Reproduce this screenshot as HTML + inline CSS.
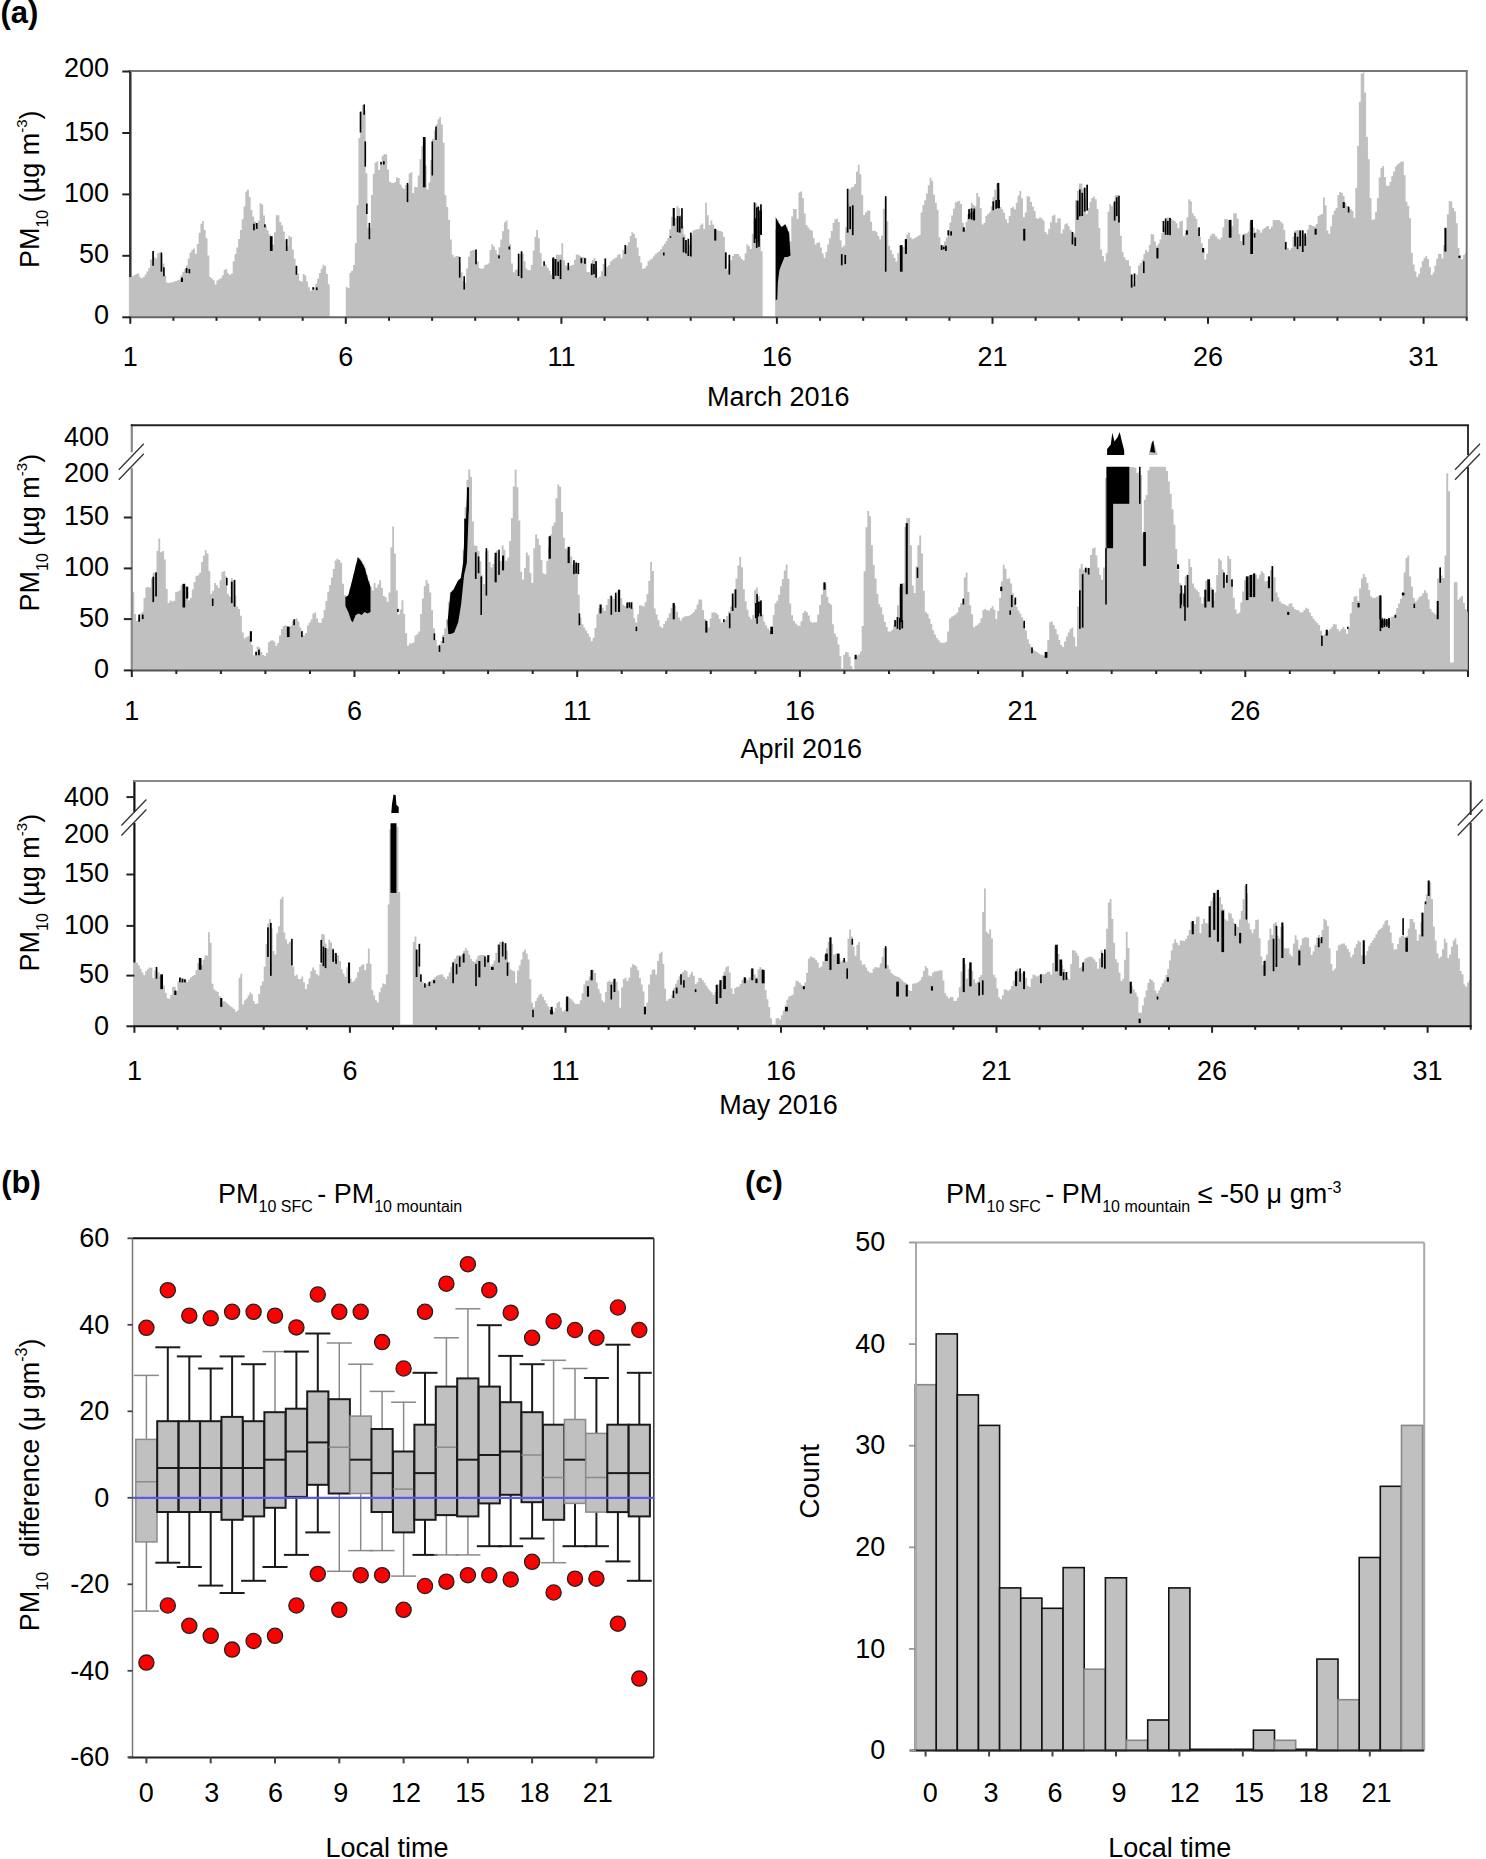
<!DOCTYPE html>
<html><head><meta charset="utf-8"><style>
html,body{margin:0;padding:0;background:#fff;}
svg{display:block;}
text{font-family:"Liberation Sans", sans-serif;}
</style></head><body>
<svg width="1486" height="1859" viewBox="0 0 1486 1859">
<rect width="1486" height="1859" fill="#fff"/>
<line x1="130.3" y1="70.0" x2="130.3" y2="317.3" stroke="#333" stroke-width="2.5"/>
<polygon points="128.9,317.3 128.9,277.0 130.3,277.0 132.1,277.0 132.1,276.2 133.9,276.2 133.9,275.1 135.7,275.1 135.7,273.9 137.5,273.9 137.5,273.6 139.3,273.6 139.3,277.3 141.1,277.3 141.1,278.2 142.9,278.2 142.9,277.1 144.7,277.1 144.7,274.6 146.5,274.6 146.5,271.5 148.3,271.5 148.3,267.9 150.1,267.9 150.1,259.6 151.9,259.6 151.9,252.0 153.7,252.0 153.7,257.6 155.4,257.6 155.4,258.6 157.2,258.6 157.2,253.2 159.0,253.2 159.0,252.5 160.8,252.5 160.8,254.1 162.6,254.1 162.6,263.4 164.4,263.4 164.4,275.8 166.2,275.8 166.2,282.4 168.0,282.4 168.0,282.9 169.8,282.9 169.8,282.6 171.6,282.6 171.6,282.2 173.4,282.2 173.4,281.6 175.2,281.6 175.2,280.9 177.0,280.9 177.0,280.2 178.8,280.2 178.8,279.5 180.6,279.5 180.6,275.4 182.4,275.4 182.4,271.7 184.2,271.7 184.2,269.2 186.0,269.2 186.0,265.4 187.8,265.4 187.8,258.6 189.6,258.6 189.6,252.4 191.4,252.4 191.4,250.0 193.2,250.0 193.2,248.5 195.0,248.5 195.0,253.7 196.8,253.7 196.8,243.9 198.6,243.9 198.6,232.7 200.4,232.7 200.4,223.7 202.1,223.7 202.1,220.9 203.9,220.9 203.9,230.1 205.7,230.1 205.7,238.3 207.5,238.3 207.5,255.4 209.3,255.4 209.3,276.9 211.1,276.9 211.1,278.5 212.9,278.5 212.9,280.3 214.7,280.3 214.7,284.4 216.5,284.4 216.5,280.5 218.3,280.5 218.3,279.2 220.1,279.2 220.1,278.2 221.9,278.2 221.9,275.2 223.7,275.2 223.7,269.9 225.5,269.9 225.5,269.1 227.3,269.1 227.3,273.3 229.1,273.3 229.1,274.8 230.9,274.8 230.9,273.6 232.7,273.6 232.7,261.5 234.5,261.5 234.5,254.1 236.3,254.1 236.3,247.5 238.1,247.5 238.1,238.9 239.9,238.9 239.9,229.9 241.7,229.9 241.7,219.3 243.5,219.3 243.5,206.4 245.3,206.4 245.3,191.5 247.1,191.5 247.1,189.4 248.9,189.4 248.9,197.0 250.6,197.0 250.6,210.0 252.4,210.0 252.4,216.6 254.2,216.6 254.2,221.5 256.0,221.5 256.0,224.9 257.8,224.9 257.8,220.7 259.6,220.7 259.6,203.2 261.4,203.2 261.4,204.6 263.2,204.6 263.2,215.5 265.0,215.5 265.0,226.5 266.8,226.5 266.8,230.2 268.6,230.2 268.6,234.6 270.4,234.6 270.4,245.0 272.2,245.0 272.2,244.4 274.0,244.4 274.0,232.2 275.8,232.2 275.8,215.3 277.6,215.3 277.6,215.3 279.4,215.3 279.4,221.9 281.2,221.9 281.2,225.4 283.0,225.4 283.0,231.5 284.8,231.5 284.8,239.3 286.6,239.3 286.6,246.4 288.4,246.4 288.4,235.8 290.2,235.8 290.2,237.0 292.0,237.0 292.0,249.5 293.8,249.5 293.8,258.8 295.6,258.8 295.6,266.4 297.3,266.4 297.3,273.6 299.1,273.6 299.1,280.8 300.9,280.8 300.9,281.4 302.7,281.4 302.7,273.9 304.5,273.9 304.5,275.4 306.3,275.4 306.3,281.6 308.1,281.6 308.1,287.3 309.9,287.3 309.9,291.0 311.7,291.0 311.7,289.2 313.5,289.2 313.5,287.4 315.3,287.4 315.3,283.8 317.1,283.8 317.1,278.4 318.9,278.4 318.9,273.0 320.7,273.0 320.7,268.8 322.5,268.8 322.5,264.7 324.3,264.7 324.3,266.1 326.1,266.1 326.1,274.0 327.9,274.0 327.9,284.2 329.7,284.2 329.7,317.3 331.5,317.3 331.5,317.3 333.3,317.3 333.3,317.3 335.1,317.3 335.1,317.3 336.9,317.3 336.9,317.3 338.7,317.3 338.7,317.3 340.5,317.3 340.5,317.3 342.3,317.3 342.3,317.3 344.1,317.3 344.1,317.3 345.8,317.3 345.8,287.0 347.6,287.0 347.6,288.0 349.4,288.0 349.4,272.7 351.2,272.7 351.2,270.8 353.0,270.8 353.0,265.0 354.8,265.0 354.8,243.3 356.6,243.3 356.6,205.3 358.4,205.3 358.4,138.0 360.2,138.0 360.2,111.1 362.0,111.1 362.0,105.1 363.8,105.1 363.8,110.5 365.6,110.5 365.6,173.3 367.4,173.3 367.4,227.6 369.2,227.6 369.2,228.0 371.0,228.0 371.0,195.0 372.8,195.0 372.8,173.7 374.6,173.7 374.6,162.4 376.4,162.4 376.4,161.4 378.2,161.4 378.2,170.0 380.0,170.0 380.0,161.6 381.8,161.6 381.8,155.8 383.6,155.8 383.6,154.0 385.4,154.0 385.4,154.5 387.2,154.5 387.2,169.4 389.0,169.4 389.0,181.8 390.8,181.8 390.8,182.7 392.6,182.7 392.6,182.9 394.3,182.9 394.3,181.9 396.1,181.9 396.1,177.4 397.9,177.4 397.9,177.9 399.7,177.9 399.7,184.6 401.5,184.6 401.5,187.5 403.3,187.5 403.3,189.1 405.1,189.1 405.1,185.0 406.9,185.0 406.9,184.3 408.7,184.3 408.7,173.4 410.5,173.4 410.5,172.3 412.3,172.3 412.3,193.1 414.1,193.1 414.1,187.0 415.9,187.0 415.9,187.3 417.7,187.3 417.7,175.6 419.5,175.6 419.5,159.2 421.3,159.2 421.3,146.1 423.1,146.1 423.1,139.6 424.9,139.6 424.9,165.4 426.7,165.4 426.7,189.6 428.5,189.6 428.5,182.6 430.3,182.6 430.3,159.9 432.1,159.9 432.1,138.8 433.9,138.8 433.9,130.5 435.7,130.5 435.7,124.4 437.5,124.4 437.5,119.3 439.3,119.3 439.3,117.0 441.0,117.0 441.0,124.4 442.8,124.4 442.8,142.7 444.6,142.7 444.6,195.3 446.4,195.3 446.4,207.0 448.2,207.0 448.2,219.8 450.0,219.8 450.0,239.4 451.8,239.4 451.8,254.8 453.6,254.8 453.6,257.2 455.4,257.2 455.4,256.0 457.2,256.0 457.2,256.0 459.0,256.0 459.0,262.7 460.8,262.7 460.8,272.5 462.6,272.5 462.6,280.9 464.4,280.9 464.4,282.7 466.2,282.7 466.2,268.4 468.0,268.4 468.0,256.8 469.8,256.8 469.8,251.1 471.6,251.1 471.6,250.2 473.4,250.2 473.4,249.7 475.2,249.7 475.2,250.4 477.0,250.4 477.0,261.4 478.8,261.4 478.8,267.9 480.6,267.9 480.6,268.9 482.4,268.9 482.4,268.3 484.2,268.3 484.2,264.9 486.0,264.9 486.0,264.5 487.8,264.5 487.8,263.3 489.5,263.3 489.5,250.1 491.3,250.1 491.3,244.2 493.1,244.2 493.1,246.6 494.9,246.6 494.9,250.2 496.7,250.2 496.7,254.2 498.5,254.2 498.5,247.2 500.3,247.2 500.3,239.4 502.1,239.4 502.1,231.2 503.9,231.2 503.9,222.3 505.7,222.3 505.7,220.6 507.5,220.6 507.5,229.2 509.3,229.2 509.3,244.0 511.1,244.0 511.1,263.6 512.9,263.6 512.9,272.3 514.7,272.3 514.7,269.9 516.5,269.9 516.5,269.3 518.3,269.3 518.3,275.4 520.1,275.4 520.1,253.7 521.9,253.7 521.9,253.4 523.7,253.4 523.7,261.2 525.5,261.2 525.5,268.4 527.3,268.4 527.3,270.2 529.1,270.2 529.1,270.2 530.9,270.2 530.9,264.9 532.7,264.9 532.7,250.5 534.5,250.5 534.5,236.9 536.2,236.9 536.2,229.9 538.0,229.9 538.0,238.2 539.8,238.2 539.8,253.0 541.6,253.0 541.6,265.9 543.4,265.9 543.4,264.4 545.2,264.4 545.2,264.7 547.0,264.7 547.0,267.7 548.8,267.7 548.8,270.7 550.6,270.7 550.6,274.6 552.4,274.6 552.4,271.2 554.2,271.2 554.2,260.3 556.0,260.3 556.0,254.4 557.8,254.4 557.8,254.7 559.6,254.7 559.6,254.8 561.4,254.8 561.4,243.3 563.2,243.3 563.2,260.2 565.0,260.2 565.0,265.3 566.8,265.3 566.8,266.3 568.6,266.3 568.6,266.6 570.4,266.6 570.4,265.6 572.2,265.6 572.2,264.7 574.0,264.7 574.0,259.8 575.8,259.8 575.8,254.4 577.6,254.4 577.6,254.7 579.4,254.7 579.4,256.1 581.2,256.1 581.2,256.9 583.0,256.9 583.0,256.9 584.7,256.9 584.7,258.0 586.5,258.0 586.5,272.1 588.3,272.1 588.3,272.2 590.1,272.2 590.1,265.2 591.9,265.2 591.9,260.0 593.7,260.0 593.7,257.9 595.5,257.9 595.5,268.3 597.3,268.3 597.3,277.7 599.1,277.7 599.1,276.5 600.9,276.5 600.9,271.3 602.7,271.3 602.7,264.1 604.5,264.1 604.5,259.4 606.3,259.4 606.3,267.0 608.1,267.0 608.1,264.9 609.9,264.9 609.9,261.6 611.7,261.6 611.7,259.8 613.5,259.8 613.5,258.6 615.3,258.6 615.3,257.4 617.1,257.4 617.1,254.7 618.9,254.7 618.9,254.3 620.7,254.3 620.7,258.4 622.5,258.4 622.5,250.0 624.3,250.0 624.3,245.4 626.1,245.4 626.1,245.7 627.9,245.7 627.9,242.2 629.7,242.2 629.7,236.0 631.4,236.0 631.4,232.2 633.2,232.2 633.2,234.0 635.0,234.0 635.0,237.9 636.8,237.9 636.8,247.5 638.6,247.5 638.6,256.1 640.4,256.1 640.4,262.7 642.2,262.7 642.2,268.7 644.0,268.7 644.0,268.3 645.8,268.3 645.8,265.8 647.6,265.8 647.6,261.3 649.4,261.3 649.4,259.8 651.2,259.8 651.2,258.6 653.0,258.6 653.0,256.2 654.8,256.2 654.8,253.8 656.6,253.8 656.6,252.5 658.4,252.5 658.4,251.3 660.2,251.3 660.2,249.1 662.0,249.1 662.0,246.3 663.8,246.3 663.8,243.7 665.6,243.7 665.6,240.9 667.4,240.9 667.4,238.0 669.2,238.0 669.2,229.6 671.0,229.6 671.0,216.7 672.8,216.7 672.8,218.1 674.6,218.1 674.6,218.1 676.4,218.1 676.4,206.2 678.2,206.2 678.2,208.2 679.9,208.2 679.9,215.2 681.7,215.2 681.7,225.8 683.5,225.8 683.5,234.6 685.3,234.6 685.3,243.1 687.1,243.1 687.1,252.1 688.9,252.1 688.9,244.9 690.7,244.9 690.7,235.3 692.5,235.3 692.5,230.4 694.3,230.4 694.3,229.7 696.1,229.7 696.1,229.3 697.9,229.3 697.9,229.0 699.7,229.0 699.7,225.3 701.5,225.3 701.5,223.5 703.3,223.5 703.3,229.0 705.1,229.0 705.1,202.8 706.9,202.8 706.9,215.2 708.7,215.2 708.7,225.1 710.5,225.1 710.5,220.5 712.3,220.5 712.3,224.4 714.1,224.4 714.1,230.3 715.9,230.3 715.9,230.3 717.7,230.3 717.7,230.5 719.5,230.5 719.5,231.0 721.3,231.0 721.3,231.7 723.1,231.7 723.1,236.7 724.9,236.7 724.9,252.4 726.7,252.4 726.7,269.5 728.4,269.5 728.4,264.3 730.2,264.3 730.2,260.2 732.0,260.2 732.0,256.0 733.8,256.0 733.8,254.1 735.6,254.1 735.6,253.9 737.4,253.9 737.4,254.1 739.2,254.1 739.2,256.6 741.0,256.6 741.0,258.9 742.8,258.9 742.8,260.4 744.6,260.4 744.6,253.6 746.4,253.6 746.4,244.4 748.2,244.4 748.2,246.3 750.0,246.3 750.0,249.0 751.8,249.0 751.8,233.7 753.6,233.7 753.6,217.4 755.4,217.4 755.4,203.4 757.2,203.4 757.2,206.3 759.0,206.3 759.0,218.2 760.8,218.2 760.8,251.2 762.6,251.2 762.6,317.3 764.4,317.3 764.4,317.3 766.2,317.3 766.2,317.3 768.0,317.3 768.0,317.3 769.8,317.3 769.8,317.3 771.6,317.3 771.6,317.3 773.4,317.3 773.4,317.3 775.1,317.3 775.1,229.6 776.9,229.6 776.9,220.0 778.7,220.0 778.7,223.3 780.5,223.3 780.5,225.9 782.3,225.9 782.3,225.5 784.1,225.5 784.1,224.5 785.9,224.5 785.9,226.3 787.7,226.3 787.7,231.1 789.5,231.1 789.5,241.6 791.3,241.6 791.3,216.6 793.1,216.6 793.1,209.0 794.9,209.0 794.9,209.0 796.7,209.0 796.7,218.8 798.5,218.8 798.5,192.6 800.3,192.6 800.3,191.5 802.1,191.5 802.1,198.0 803.9,198.0 803.9,213.5 805.7,213.5 805.7,225.1 807.5,225.1 807.5,227.5 809.3,227.5 809.3,229.7 811.1,229.7 811.1,230.8 812.9,230.8 812.9,238.3 814.7,238.3 814.7,244.5 816.5,244.5 816.5,242.7 818.3,242.7 818.3,242.5 820.1,242.5 820.1,247.5 821.9,247.5 821.9,253.5 823.6,253.5 823.6,257.7 825.4,257.7 825.4,252.0 827.2,252.0 827.2,244.5 829.0,244.5 829.0,238.3 830.8,238.3 830.8,230.9 832.6,230.9 832.6,223.1 834.4,223.1 834.4,219.5 836.2,219.5 836.2,218.6 838.0,218.6 838.0,221.9 839.8,221.9 839.8,240.2 841.6,240.2 841.6,247.2 843.4,247.2 843.4,245.4 845.2,245.4 845.2,227.2 847.0,227.2 847.0,203.8 848.8,203.8 848.8,189.5 850.6,189.5 850.6,187.6 852.4,187.6 852.4,186.7 854.2,186.7 854.2,184.0 856.0,184.0 856.0,171.8 857.8,171.8 857.8,164.8 859.6,164.8 859.6,174.3 861.4,174.3 861.4,195.1 863.2,195.1 863.2,214.9 865.0,214.9 865.0,212.6 866.8,212.6 866.8,210.4 868.6,210.4 868.6,210.4 870.3,210.4 870.3,221.7 872.1,221.7 872.1,230.9 873.9,230.9 873.9,230.4 875.7,230.4 875.7,232.3 877.5,232.3 877.5,235.9 879.3,235.9 879.3,239.3 881.1,239.3 881.1,235.4 882.9,235.4 882.9,208.8 884.7,208.8 884.7,198.7 886.5,198.7 886.5,221.3 888.3,221.3 888.3,245.8 890.1,245.8 890.1,250.3 891.9,250.3 891.9,254.3 893.7,254.3 893.7,257.9 895.5,257.9 895.5,261.5 897.3,261.5 897.3,253.0 899.1,253.0 899.1,245.8 900.9,245.8 900.9,247.6 902.7,247.6 902.7,247.0 904.5,247.0 904.5,239.2 906.3,239.2 906.3,234.5 908.1,234.5 908.1,232.4 909.9,232.4 909.9,237.6 911.7,237.6 911.7,239.2 913.5,239.2 913.5,238.3 915.3,238.3 915.3,237.3 917.1,237.3 917.1,236.2 918.8,236.2 918.8,235.0 920.6,235.0 920.6,212.4 922.4,212.4 922.4,204.9 924.2,204.9 924.2,200.2 926.0,200.2 926.0,193.6 927.8,193.6 927.8,185.3 929.6,185.3 929.6,177.7 931.4,177.7 931.4,180.7 933.2,180.7 933.2,194.7 935.0,194.7 935.0,202.8 936.8,202.8 936.8,209.8 938.6,209.8 938.6,237.3 940.4,237.3 940.4,245.1 942.2,245.1 942.2,245.0 944.0,245.0 944.0,241.5 945.8,241.5 945.8,237.5 947.6,237.5 947.6,230.3 949.4,230.3 949.4,222.5 951.2,222.5 951.2,215.4 953.0,215.4 953.0,208.7 954.8,208.7 954.8,202.5 956.6,202.5 956.6,201.4 958.4,201.4 958.4,200.8 960.2,200.8 960.2,204.0 962.0,204.0 962.0,222.7 963.8,222.7 963.8,230.3 965.5,230.3 965.5,221.9 967.3,221.9 967.3,214.6 969.1,214.6 969.1,208.5 970.9,208.5 970.9,202.7 972.7,202.7 972.7,205.1 974.5,205.1 974.5,206.3 976.3,206.3 976.3,193.0 978.1,193.0 978.1,196.8 979.9,196.8 979.9,208.1 981.7,208.1 981.7,224.5 983.5,224.5 983.5,222.9 985.3,222.9 985.3,216.1 987.1,216.1 987.1,214.0 988.9,214.0 988.9,212.2 990.7,212.2 990.7,206.2 992.5,206.2 992.5,197.1 994.3,197.1 994.3,189.7 996.1,189.7 996.1,183.7 997.9,183.7 997.9,189.0 999.7,189.0 999.7,207.1 1001.5,207.1 1001.5,209.2 1003.3,209.2 1003.3,212.8 1005.1,212.8 1005.1,219.2 1006.9,219.2 1006.9,223.0 1008.7,223.0 1008.7,215.9 1010.5,215.9 1010.5,208.1 1012.3,208.1 1012.3,206.8 1014.0,206.8 1014.0,209.2 1015.8,209.2 1015.8,202.7 1017.6,202.7 1017.6,195.5 1019.4,195.5 1019.4,191.1 1021.2,191.1 1021.2,198.5 1023.0,198.5 1023.0,217.2 1024.8,217.2 1024.8,212.4 1026.6,212.4 1026.6,196.1 1028.4,196.1 1028.4,196.7 1030.2,196.7 1030.2,201.9 1032.0,201.9 1032.0,206.6 1033.8,206.6 1033.8,211.1 1035.6,211.1 1035.6,218.0 1037.4,218.0 1037.4,218.7 1039.2,218.7 1039.2,217.2 1041.0,217.2 1041.0,218.4 1042.8,218.4 1042.8,220.4 1044.6,220.4 1044.6,231.9 1046.4,231.9 1046.4,234.3 1048.2,234.3 1048.2,228.7 1050.0,228.7 1050.0,222.3 1051.8,222.3 1051.8,215.8 1053.6,215.8 1053.6,214.7 1055.4,214.7 1055.4,222.7 1057.2,222.7 1057.2,218.4 1059.0,218.4 1059.0,218.3 1060.8,218.3 1060.8,233.6 1062.5,233.6 1062.5,229.4 1064.3,229.4 1064.3,224.3 1066.1,224.3 1066.1,223.2 1067.9,223.2 1067.9,226.3 1069.7,226.3 1069.7,230.1 1071.5,230.1 1071.5,237.4 1073.3,237.4 1073.3,233.5 1075.1,233.5 1075.1,200.2 1076.9,200.2 1076.9,190.8 1078.7,190.8 1078.7,183.5 1080.5,183.5 1080.5,183.5 1082.3,183.5 1082.3,188.4 1084.1,188.4 1084.1,198.7 1085.9,198.7 1085.9,214.1 1087.7,214.1 1087.7,208.1 1089.5,208.1 1089.5,201.8 1091.3,201.8 1091.3,198.1 1093.1,198.1 1093.1,196.5 1094.9,196.5 1094.9,199.2 1096.7,199.2 1096.7,208.9 1098.5,208.9 1098.5,227.9 1100.3,227.9 1100.3,249.4 1102.1,249.4 1102.1,255.9 1103.9,255.9 1103.9,261.5 1105.7,261.5 1105.7,253.1 1107.5,253.1 1107.5,211.8 1109.2,211.8 1109.2,204.0 1111.0,204.0 1111.0,205.9 1112.8,205.9 1112.8,202.7 1114.6,202.7 1114.6,195.4 1116.4,195.4 1116.4,195.0 1118.2,195.0 1118.2,215.5 1120.0,215.5 1120.0,235.7 1121.8,235.7 1121.8,251.9 1123.6,251.9 1123.6,257.2 1125.4,257.2 1125.4,259.9 1127.2,259.9 1127.2,260.3 1129.0,260.3 1129.0,266.1 1130.8,266.1 1130.8,273.9 1132.6,273.9 1132.6,283.6 1134.4,283.6 1134.4,285.9 1136.2,285.9 1136.2,274.6 1138.0,274.6 1138.0,265.6 1139.8,265.6 1139.8,262.9 1141.6,262.9 1141.6,259.5 1143.4,259.5 1143.4,254.0 1145.2,254.0 1145.2,250.0 1147.0,250.0 1147.0,251.8 1148.8,251.8 1148.8,244.9 1150.6,244.9 1150.6,234.1 1152.4,234.1 1152.4,234.4 1154.2,234.4 1154.2,241.6 1156.0,241.6 1156.0,246.1 1157.7,246.1 1157.7,243.6 1159.5,243.6 1159.5,239.4 1161.3,239.4 1161.3,233.0 1163.1,233.0 1163.1,226.2 1164.9,226.2 1164.9,220.9 1166.7,220.9 1166.7,217.3 1168.5,217.3 1168.5,217.7 1170.3,217.7 1170.3,219.1 1172.1,219.1 1172.1,220.2 1173.9,220.2 1173.9,221.0 1175.7,221.0 1175.7,223.3 1177.5,223.3 1177.5,228.2 1179.3,228.2 1179.3,221.4 1181.1,221.4 1181.1,220.8 1182.9,220.8 1182.9,236.3 1184.7,236.3 1184.7,233.5 1186.5,233.5 1186.5,217.2 1188.3,217.2 1188.3,199.2 1190.1,199.2 1190.1,201.3 1191.9,201.3 1191.9,213.2 1193.7,213.2 1193.7,216.2 1195.5,216.2 1195.5,218.9 1197.3,218.9 1197.3,228.3 1199.1,228.3 1199.1,236.8 1200.9,236.8 1200.9,243.2 1202.7,243.2 1202.7,251.2 1204.4,251.2 1204.4,259.6 1206.2,259.6 1206.2,253.5 1208.0,253.5 1208.0,239.1 1209.8,239.1 1209.8,235.4 1211.6,235.4 1211.6,233.4 1213.4,233.4 1213.4,234.3 1215.2,234.3 1215.2,236.5 1217.0,236.5 1217.0,238.5 1218.8,238.5 1218.8,239.6 1220.6,239.6 1220.6,237.6 1222.4,237.6 1222.4,227.2 1224.2,227.2 1224.2,219.1 1226.0,219.1 1226.0,218.9 1227.8,218.9 1227.8,220.3 1229.6,220.3 1229.6,229.3 1231.4,229.3 1231.4,226.1 1233.2,226.1 1233.2,213.5 1235.0,213.5 1235.0,213.2 1236.8,213.2 1236.8,218.6 1238.6,218.6 1238.6,234.1 1240.4,234.1 1240.4,241.1 1242.2,241.1 1242.2,235.7 1244.0,235.7 1244.0,233.4 1245.8,233.4 1245.8,233.2 1247.6,233.2 1247.6,231.6 1249.4,231.6 1249.4,221.8 1251.2,221.8 1251.2,220.5 1252.9,220.5 1252.9,227.6 1254.7,227.6 1254.7,232.0 1256.5,232.0 1256.5,229.1 1258.3,229.1 1258.3,230.1 1260.1,230.1 1260.1,232.8 1261.9,232.8 1261.9,229.4 1263.7,229.4 1263.7,227.9 1265.5,227.9 1265.5,226.6 1267.3,226.6 1267.3,226.1 1269.1,226.1 1269.1,229.0 1270.9,229.0 1270.9,226.4 1272.7,226.4 1272.7,220.3 1274.5,220.3 1274.5,219.9 1276.3,219.9 1276.3,219.9 1278.1,219.9 1278.1,220.0 1279.9,220.0 1279.9,221.4 1281.7,221.4 1281.7,223.5 1283.5,223.5 1283.5,229.9 1285.3,229.9 1285.3,241.5 1287.1,241.5 1287.1,248.1 1288.9,248.1 1288.9,250.0 1290.7,250.0 1290.7,248.0 1292.5,248.0 1292.5,236.4 1294.3,236.4 1294.3,230.6 1296.1,230.6 1296.1,230.3 1297.9,230.3 1297.9,230.3 1299.6,230.3 1299.6,230.3 1301.4,230.3 1301.4,230.6 1303.2,230.6 1303.2,234.8 1305.0,234.8 1305.0,236.8 1306.8,236.8 1306.8,229.6 1308.6,229.6 1308.6,224.7 1310.4,224.7 1310.4,225.0 1312.2,225.0 1312.2,226.1 1314.0,226.1 1314.0,226.6 1315.8,226.6 1315.8,224.0 1317.6,224.0 1317.6,216.1 1319.4,216.1 1319.4,214.8 1321.2,214.8 1321.2,214.1 1323.0,214.1 1323.0,197.5 1324.8,197.5 1324.8,205.6 1326.6,205.6 1326.6,230.4 1328.4,230.4 1328.4,233.8 1330.2,233.8 1330.2,226.2 1332.0,226.2 1332.0,215.0 1333.8,215.0 1333.8,210.6 1335.6,210.6 1335.6,207.9 1337.4,207.9 1337.4,194.9 1339.2,194.9 1339.2,191.9 1341.0,191.9 1341.0,192.8 1342.8,192.8 1342.8,196.0 1344.6,196.0 1344.6,202.8 1346.4,202.8 1346.4,206.1 1348.1,206.1 1348.1,207.6 1349.9,207.6 1349.9,209.0 1351.7,209.0 1351.7,210.9 1353.5,210.9 1353.5,217.7 1355.3,217.7 1355.3,187.9 1357.1,187.9 1357.1,145.8 1358.9,145.8 1358.9,101.8 1360.7,101.8 1360.7,73.7 1362.5,73.7 1362.5,72.4 1364.3,72.4 1364.3,92.8 1366.1,92.8 1366.1,136.7 1367.9,136.7 1367.9,159.2 1369.7,159.2 1369.7,198.0 1371.5,198.0 1371.5,219.7 1373.3,219.7 1373.3,219.2 1375.1,219.2 1375.1,211.8 1376.9,211.8 1376.9,198.3 1378.7,198.3 1378.7,177.4 1380.5,177.4 1380.5,168.0 1382.3,168.0 1382.3,166.1 1384.1,166.1 1384.1,176.9 1385.9,176.9 1385.9,185.8 1387.7,185.8 1387.7,185.8 1389.5,185.8 1389.5,181.9 1391.3,181.9 1391.3,176.3 1393.1,176.3 1393.1,171.5 1394.9,171.5 1394.9,166.5 1396.6,166.5 1396.6,164.6 1398.4,164.6 1398.4,163.0 1400.2,163.0 1400.2,161.8 1402.0,161.8 1402.0,161.6 1403.8,161.6 1403.8,175.3 1405.6,175.3 1405.6,201.8 1407.4,201.8 1407.4,205.8 1409.2,205.8 1409.2,218.3 1411.0,218.3 1411.0,252.7 1412.8,252.7 1412.8,264.6 1414.6,264.6 1414.6,271.6 1416.4,271.6 1416.4,276.7 1418.2,276.7 1418.2,273.8 1420.0,273.8 1420.0,267.6 1421.8,267.6 1421.8,261.1 1423.6,261.1 1423.6,258.0 1425.4,258.0 1425.4,256.1 1427.2,256.1 1427.2,258.9 1429.0,258.9 1429.0,266.9 1430.8,266.9 1430.8,274.9 1432.6,274.9 1432.6,272.4 1434.4,272.4 1434.4,265.8 1436.2,265.8 1436.2,258.7 1438.0,258.7 1438.0,253.8 1439.8,253.8 1439.8,253.9 1441.6,253.9 1441.6,258.4 1443.3,258.4 1443.3,245.1 1445.1,245.1 1445.1,228.4 1446.9,228.4 1446.9,214.2 1448.7,214.2 1448.7,201.0 1450.5,201.0 1450.5,201.5 1452.3,201.5 1452.3,208.0 1454.1,208.0 1454.1,211.3 1455.9,211.3 1455.9,223.3 1457.7,223.3 1457.7,247.9 1459.5,247.9 1459.5,254.9 1461.3,254.9 1461.3,259.2 1463.1,259.2 1463.1,255.1 1464.9,255.1 1464.9,253.0 1466.4,253.0 1466.4,317.3" fill="#c0c0c0"/>
<rect x="152.3" y="251.0" width="1.6" height="14.8" fill="#000"/>
<rect x="160.6" y="252.5" width="1.6" height="19.2" fill="#000"/>
<rect x="163.1" y="267.3" width="1.6" height="8.9" fill="#000"/>
<rect x="185.7" y="268.0" width="1.7" height="4.9" fill="#000"/>
<rect x="188.5" y="269.0" width="1.7" height="4.3" fill="#000"/>
<rect x="180.9" y="277.6" width="2.1" height="4.4" fill="#000"/>
<rect x="253.1" y="223.7" width="1.7" height="6.6" fill="#000"/>
<rect x="255.9" y="223.0" width="1.7" height="5.9" fill="#000"/>
<rect x="264.1" y="224.3" width="1.6" height="3.0" fill="#000"/>
<rect x="269.9" y="236.2" width="2.7" height="14.8" fill="#000"/>
<rect x="285.9" y="239.1" width="1.6" height="11.8" fill="#000"/>
<rect x="295.6" y="265.8" width="1.6" height="8.9" fill="#000"/>
<rect x="312.3" y="287.2" width="1.7" height="2.4" fill="#000"/>
<rect x="315.9" y="287.4" width="1.7" height="2.7" fill="#000"/>
<rect x="359.7" y="111.8" width="1.6" height="20.7" fill="#000"/>
<rect x="363.4" y="104.4" width="1.6" height="10.4" fill="#000"/>
<rect x="364.5" y="141.4" width="1.6" height="25.2" fill="#000"/>
<rect x="366.0" y="203.6" width="1.6" height="10.4" fill="#000"/>
<rect x="368.6" y="222.9" width="1.6" height="16.3" fill="#000"/>
<rect x="380.2" y="162.2" width="1.7" height="2.2" fill="#000"/>
<rect x="383.0" y="161.2" width="1.7" height="3.3" fill="#000"/>
<rect x="406.7" y="182.9" width="1.6" height="19.2" fill="#000"/>
<rect x="422.9" y="137.0" width="2.7" height="50.3" fill="#000"/>
<rect x="431.5" y="141.4" width="1.6" height="34.1" fill="#000"/>
<rect x="435.2" y="126.6" width="1.6" height="13.3" fill="#000"/>
<rect x="458.9" y="256.9" width="1.6" height="20.7" fill="#000"/>
<rect x="463.4" y="276.2" width="1.6" height="13.3" fill="#000"/>
<rect x="475.2" y="249.5" width="1.6" height="14.8" fill="#000"/>
<rect x="498.2" y="255.4" width="1.6" height="3.0" fill="#000"/>
<rect x="508.5" y="246.5" width="1.6" height="3.0" fill="#000"/>
<rect x="517.8" y="253.7" width="1.7" height="22.3" fill="#000"/>
<rect x="520.7" y="251.3" width="1.7" height="26.8" fill="#000"/>
<rect x="543.3" y="261.3" width="1.6" height="4.4" fill="#000"/>
<rect x="552.3" y="258.4" width="2.2" height="20.7" fill="#000"/>
<rect x="552.4" y="257.4" width="1.7" height="17.3" fill="#000"/>
<rect x="554.8" y="259.0" width="1.7" height="16.7" fill="#000"/>
<rect x="557.3" y="261.6" width="1.7" height="14.4" fill="#000"/>
<rect x="559.7" y="259.8" width="1.7" height="19.3" fill="#000"/>
<rect x="567.5" y="262.8" width="1.6" height="7.4" fill="#000"/>
<rect x="580.5" y="258.1" width="1.7" height="5.1" fill="#000"/>
<rect x="584.1" y="258.2" width="1.7" height="5.6" fill="#000"/>
<rect x="590.9" y="263.5" width="1.7" height="11.5" fill="#000"/>
<rect x="593.1" y="264.0" width="1.7" height="10.2" fill="#000"/>
<rect x="595.2" y="261.1" width="1.7" height="16.6" fill="#000"/>
<rect x="604.5" y="258.4" width="1.6" height="17.8" fill="#000"/>
<rect x="624.5" y="245.1" width="1.6" height="8.9" fill="#000"/>
<rect x="663.0" y="252.5" width="1.6" height="3.0" fill="#000"/>
<rect x="669.7" y="236.2" width="1.6" height="1.5" fill="#000"/>
<rect x="672.7" y="208.0" width="2.1" height="17.8" fill="#000"/>
<rect x="676.8" y="216.0" width="1.7" height="16.2" fill="#000"/>
<rect x="678.9" y="216.3" width="1.7" height="16.4" fill="#000"/>
<rect x="681.1" y="208.2" width="1.7" height="20.3" fill="#000"/>
<rect x="682.7" y="237.4" width="1.7" height="15.0" fill="#000"/>
<rect x="685.1" y="240.0" width="1.7" height="13.4" fill="#000"/>
<rect x="687.5" y="238.7" width="1.7" height="17.3" fill="#000"/>
<rect x="690.0" y="232.6" width="1.7" height="23.9" fill="#000"/>
<rect x="714.2" y="228.8" width="2.1" height="11.8" fill="#000"/>
<rect x="724.9" y="252.4" width="1.7" height="16.3" fill="#000"/>
<rect x="728.5" y="254.8" width="1.7" height="19.7" fill="#000"/>
<rect x="753.7" y="202.4" width="1.7" height="40.6" fill="#000"/>
<rect x="755.9" y="207.4" width="1.7" height="40.5" fill="#000"/>
<rect x="758.1" y="210.4" width="1.7" height="36.4" fill="#000"/>
<rect x="760.3" y="210.4" width="1.7" height="24.6" fill="#000"/>
<rect x="755.0" y="218.2" width="1.7" height="20.7" fill="#000"/>
<rect x="757.5" y="206.6" width="1.7" height="35.7" fill="#000"/>
<rect x="760.1" y="204.3" width="1.7" height="29.9" fill="#000"/>
<rect x="840.9" y="254.1" width="1.7" height="11.2" fill="#000"/>
<rect x="844.4" y="254.9" width="1.7" height="9.2" fill="#000"/>
<rect x="846.8" y="188.7" width="1.7" height="43.9" fill="#000"/>
<rect x="849.3" y="206.5" width="1.7" height="22.6" fill="#000"/>
<rect x="851.9" y="205.3" width="1.7" height="29.9" fill="#000"/>
<rect x="884.9" y="196.2" width="1.6" height="75.5" fill="#000"/>
<rect x="899.9" y="245.1" width="2.7" height="26.6" fill="#000"/>
<rect x="904.9" y="239.1" width="2.1" height="14.8" fill="#000"/>
<rect x="940.8" y="245.2" width="1.7" height="4.8" fill="#000"/>
<rect x="943.0" y="246.8" width="1.7" height="2.5" fill="#000"/>
<rect x="945.1" y="245.7" width="1.7" height="5.3" fill="#000"/>
<rect x="947.5" y="230.3" width="1.7" height="5.1" fill="#000"/>
<rect x="950.3" y="231.3" width="1.7" height="4.2" fill="#000"/>
<rect x="962.7" y="227.3" width="2.1" height="4.4" fill="#000"/>
<rect x="968.2" y="209.1" width="1.7" height="8.8" fill="#000"/>
<rect x="970.8" y="208.4" width="1.7" height="11.2" fill="#000"/>
<rect x="973.4" y="208.6" width="1.7" height="11.5" fill="#000"/>
<rect x="968.0" y="214.0" width="1.7" height="5.1" fill="#000"/>
<rect x="970.5" y="212.6" width="1.7" height="6.0" fill="#000"/>
<rect x="973.0" y="211.4" width="1.7" height="9.0" fill="#000"/>
<rect x="992.4" y="201.4" width="1.7" height="8.9" fill="#000"/>
<rect x="995.3" y="200.1" width="1.7" height="8.7" fill="#000"/>
<rect x="998.2" y="199.9" width="1.7" height="8.4" fill="#000"/>
<rect x="997.2" y="182.9" width="2.1" height="25.2" fill="#000"/>
<rect x="1023.2" y="228.8" width="2.1" height="11.8" fill="#000"/>
<rect x="1071.6" y="231.9" width="1.7" height="12.6" fill="#000"/>
<rect x="1074.4" y="237.4" width="1.7" height="8.6" fill="#000"/>
<rect x="1076.5" y="200.6" width="2.1" height="19.2" fill="#000"/>
<rect x="1079.0" y="189.5" width="1.7" height="26.8" fill="#000"/>
<rect x="1081.4" y="192.8" width="1.7" height="23.2" fill="#000"/>
<rect x="1083.9" y="187.6" width="1.7" height="23.9" fill="#000"/>
<rect x="1086.3" y="184.7" width="1.7" height="25.9" fill="#000"/>
<rect x="1113.8" y="201.4" width="1.7" height="19.2" fill="#000"/>
<rect x="1115.9" y="197.3" width="1.7" height="18.8" fill="#000"/>
<rect x="1118.1" y="195.7" width="1.7" height="26.8" fill="#000"/>
<rect x="1130.8" y="274.7" width="1.7" height="12.9" fill="#000"/>
<rect x="1133.7" y="273.5" width="1.7" height="12.8" fill="#000"/>
<rect x="1143.0" y="261.3" width="1.6" height="11.8" fill="#000"/>
<rect x="1156.4" y="248.0" width="2.1" height="10.4" fill="#000"/>
<rect x="1162.6" y="221.0" width="1.7" height="11.2" fill="#000"/>
<rect x="1164.8" y="218.5" width="1.7" height="16.3" fill="#000"/>
<rect x="1167.0" y="220.9" width="1.7" height="14.0" fill="#000"/>
<rect x="1169.2" y="217.9" width="1.7" height="17.3" fill="#000"/>
<rect x="1185.8" y="230.3" width="2.1" height="4.4" fill="#000"/>
<rect x="1198.3" y="227.3" width="1.6" height="8.9" fill="#000"/>
<rect x="1202.1" y="248.0" width="2.1" height="4.4" fill="#000"/>
<rect x="1228.8" y="219.9" width="2.7" height="17.8" fill="#000"/>
<rect x="1242.7" y="234.7" width="1.6" height="10.4" fill="#000"/>
<rect x="1250.3" y="219.9" width="2.7" height="34.1" fill="#000"/>
<rect x="1253.8" y="233.2" width="1.6" height="4.4" fill="#000"/>
<rect x="1284.9" y="242.1" width="1.6" height="7.4" fill="#000"/>
<rect x="1294.2" y="232.7" width="1.7" height="13.8" fill="#000"/>
<rect x="1296.7" y="236.7" width="1.7" height="12.4" fill="#000"/>
<rect x="1299.3" y="230.5" width="1.7" height="15.7" fill="#000"/>
<rect x="1301.9" y="230.3" width="1.7" height="21.7" fill="#000"/>
<rect x="1304.4" y="233.4" width="1.7" height="12.4" fill="#000"/>
<rect x="1314.6" y="228.8" width="2.1" height="5.9" fill="#000"/>
<rect x="1342.7" y="202.1" width="2.1" height="5.9" fill="#000"/>
<rect x="1347.8" y="206.6" width="1.6" height="5.9" fill="#000"/>
<rect x="1444.4" y="227.8" width="2.0" height="23.8" fill="#000"/>
<rect x="1458.4" y="255.8" width="2.0" height="2.1" fill="#000"/>
<polygon points="775.7,216.9 778.7,222.9 781.6,227.3 785.3,224.3 789.1,233.2 790.5,255.4 787.6,256.9 784.6,256.9 781.6,264.3 779.4,270.2 777.9,282.1 777.2,299.8 775.7,299.8" fill="#000"/>
<line x1="1466.7" y1="71.0" x2="1466.7" y2="317.3" stroke="#777" stroke-width="2"/>
<line x1="129.3" y1="71.0" x2="1467.7" y2="71.0" stroke="#777" stroke-width="2"/>
<line x1="129.3" y1="317.3" x2="1467.7" y2="317.3" stroke="#666" stroke-width="2"/>
<line x1="130.3" y1="317.3" x2="130.3" y2="323.8" stroke="#222" stroke-width="2"/>
<line x1="173.4" y1="317.3" x2="173.4" y2="320.8" stroke="#222" stroke-width="2"/>
<line x1="216.5" y1="317.3" x2="216.5" y2="320.8" stroke="#222" stroke-width="2"/>
<line x1="259.6" y1="317.3" x2="259.6" y2="320.8" stroke="#222" stroke-width="2"/>
<line x1="302.7" y1="317.3" x2="302.7" y2="320.8" stroke="#222" stroke-width="2"/>
<line x1="345.8" y1="317.3" x2="345.8" y2="323.8" stroke="#222" stroke-width="2"/>
<line x1="389.0" y1="317.3" x2="389.0" y2="320.8" stroke="#222" stroke-width="2"/>
<line x1="432.1" y1="317.3" x2="432.1" y2="320.8" stroke="#222" stroke-width="2"/>
<line x1="475.2" y1="317.3" x2="475.2" y2="320.8" stroke="#222" stroke-width="2"/>
<line x1="518.3" y1="317.3" x2="518.3" y2="320.8" stroke="#222" stroke-width="2"/>
<line x1="561.4" y1="317.3" x2="561.4" y2="323.8" stroke="#222" stroke-width="2"/>
<line x1="604.5" y1="317.3" x2="604.5" y2="320.8" stroke="#222" stroke-width="2"/>
<line x1="647.6" y1="317.3" x2="647.6" y2="320.8" stroke="#222" stroke-width="2"/>
<line x1="690.7" y1="317.3" x2="690.7" y2="320.8" stroke="#222" stroke-width="2"/>
<line x1="733.8" y1="317.3" x2="733.8" y2="320.8" stroke="#222" stroke-width="2"/>
<line x1="776.9" y1="317.3" x2="776.9" y2="323.8" stroke="#222" stroke-width="2"/>
<line x1="820.1" y1="317.3" x2="820.1" y2="320.8" stroke="#222" stroke-width="2"/>
<line x1="863.2" y1="317.3" x2="863.2" y2="320.8" stroke="#222" stroke-width="2"/>
<line x1="906.3" y1="317.3" x2="906.3" y2="320.8" stroke="#222" stroke-width="2"/>
<line x1="949.4" y1="317.3" x2="949.4" y2="320.8" stroke="#222" stroke-width="2"/>
<line x1="992.5" y1="317.3" x2="992.5" y2="323.8" stroke="#222" stroke-width="2"/>
<line x1="1035.6" y1="317.3" x2="1035.6" y2="320.8" stroke="#222" stroke-width="2"/>
<line x1="1078.7" y1="317.3" x2="1078.7" y2="320.8" stroke="#222" stroke-width="2"/>
<line x1="1121.8" y1="317.3" x2="1121.8" y2="320.8" stroke="#222" stroke-width="2"/>
<line x1="1164.9" y1="317.3" x2="1164.9" y2="320.8" stroke="#222" stroke-width="2"/>
<line x1="1208.0" y1="317.3" x2="1208.0" y2="323.8" stroke="#222" stroke-width="2"/>
<line x1="1251.2" y1="317.3" x2="1251.2" y2="320.8" stroke="#222" stroke-width="2"/>
<line x1="1294.3" y1="317.3" x2="1294.3" y2="320.8" stroke="#222" stroke-width="2"/>
<line x1="1337.4" y1="317.3" x2="1337.4" y2="320.8" stroke="#222" stroke-width="2"/>
<line x1="1380.5" y1="317.3" x2="1380.5" y2="320.8" stroke="#222" stroke-width="2"/>
<line x1="1423.6" y1="317.3" x2="1423.6" y2="323.8" stroke="#222" stroke-width="2"/>
<line x1="1466.7" y1="317.3" x2="1466.7" y2="320.8" stroke="#222" stroke-width="2"/>
<text x="130.3" y="366.0" font-size="27" text-anchor="middle" font-weight="normal" fill="#000" >1</text>
<text x="345.8" y="366.0" font-size="27" text-anchor="middle" font-weight="normal" fill="#000" >6</text>
<text x="561.4" y="366.0" font-size="27" text-anchor="middle" font-weight="normal" fill="#000" >11</text>
<text x="776.9" y="366.0" font-size="27" text-anchor="middle" font-weight="normal" fill="#000" >16</text>
<text x="992.5" y="366.0" font-size="27" text-anchor="middle" font-weight="normal" fill="#000" >21</text>
<text x="1208.0" y="366.0" font-size="27" text-anchor="middle" font-weight="normal" fill="#000" >26</text>
<text x="1423.6" y="366.0" font-size="27" text-anchor="middle" font-weight="normal" fill="#000" >31</text>
<text x="778.3" y="405.5" font-size="27" text-anchor="middle" font-weight="normal" fill="#000" >March 2016</text>
<line x1="122.3" y1="317.3" x2="130.3" y2="317.3" stroke="#222" stroke-width="2"/>
<line x1="122.3" y1="255.8" x2="130.3" y2="255.8" stroke="#222" stroke-width="2"/>
<line x1="122.3" y1="194.4" x2="130.3" y2="194.4" stroke="#222" stroke-width="2"/>
<line x1="122.3" y1="133.0" x2="130.3" y2="133.0" stroke="#222" stroke-width="2"/>
<line x1="122.3" y1="71.5" x2="130.3" y2="71.5" stroke="#222" stroke-width="2"/>
<text x="109.0" y="324.2" font-size="27" text-anchor="end" font-weight="normal" fill="#000" >0</text>
<text x="109.0" y="262.9" font-size="27" text-anchor="end" font-weight="normal" fill="#000" >50</text>
<text x="109.0" y="201.7" font-size="27" text-anchor="end" font-weight="normal" fill="#000" >100</text>
<text x="109.0" y="140.8" font-size="27" text-anchor="end" font-weight="normal" fill="#000" >150</text>
<text x="109.0" y="76.5" font-size="27" text-anchor="end" font-weight="normal" fill="#000" >200</text>
<text transform="translate(38.7,268.1) rotate(-90)" font-size="27">PM<tspan font-size="16" dy="9.5">10</tspan><tspan dy="-9.5"> (&#181;g m</tspan><tspan font-size="15" dy="-11.6">-3</tspan><tspan dy="11.6">)</tspan></text>
<line x1="1468.0" y1="425.2" x2="1468.0" y2="455.0" stroke="#333" stroke-width="2"/>
<line x1="1468.0" y1="467.0" x2="1468.0" y2="670.5" stroke="#333" stroke-width="2"/>
<polygon points="132.4,670.5 132.4,592.3 132.4,592.3 134.3,592.3 134.3,613.9 136.1,613.9 136.1,621.1 138.0,621.1 138.0,617.7 139.8,617.7 139.8,613.5 141.7,613.5 141.7,611.8 143.5,611.8 143.5,597.9 145.4,597.9 145.4,587.5 147.2,587.5 147.2,587.1 149.1,587.1 149.1,587.6 151.0,587.6 151.0,578.6 152.8,578.6 152.8,572.6 154.7,572.6 154.7,573.5 156.5,573.5 156.5,551.0 158.4,551.0 158.4,538.5 160.2,538.5 160.2,552.3 162.1,552.3 162.1,550.9 164.0,550.9 164.0,559.4 165.8,559.4 165.8,589.0 167.7,589.0 167.7,603.0 169.5,603.0 169.5,600.6 171.4,600.6 171.4,601.5 173.2,601.5 173.2,600.8 175.1,600.8 175.1,591.9 176.9,591.9 176.9,591.4 178.8,591.4 178.8,590.4 180.7,590.4 180.7,585.2 182.5,585.2 182.5,584.0 184.4,584.0 184.4,585.9 186.2,585.9 186.2,590.9 188.1,590.9 188.1,600.2 189.9,600.2 189.9,598.1 191.8,598.1 191.8,589.6 193.6,589.6 193.6,581.9 195.5,581.9 195.5,576.1 197.4,576.1 197.4,575.2 199.2,575.2 199.2,572.7 201.1,572.7 201.1,561.9 202.9,561.9 202.9,555.7 204.8,555.7 204.8,550.3 206.6,550.3 206.6,553.5 208.5,553.5 208.5,570.9 210.3,570.9 210.3,593.9 212.2,593.9 212.2,590.7 214.1,590.7 214.1,583.0 215.9,583.0 215.9,585.2 217.8,585.2 217.8,588.0 219.6,588.0 219.6,580.3 221.5,580.3 221.5,572.0 223.3,572.0 223.3,570.9 225.2,570.9 225.2,576.3 227.0,576.3 227.0,593.8 228.9,593.8 228.9,596.6 230.8,596.6 230.8,578.0 232.6,578.0 232.6,580.5 234.5,580.5 234.5,595.6 236.3,595.6 236.3,606.6 238.2,606.6 238.2,609.1 240.0,609.1 240.0,615.8 241.9,615.8 241.9,632.6 243.8,632.6 243.8,638.5 245.6,638.5 245.6,636.9 247.5,636.9 247.5,635.9 249.3,635.9 249.3,639.1 251.2,639.1 251.2,644.9 253.0,644.9 253.0,655.2 254.9,655.2 254.9,651.2 256.7,651.2 256.7,646.4 258.6,646.4 258.6,647.4 260.5,647.4 260.5,651.9 262.3,651.9 262.3,655.1 264.2,655.1 264.2,656.1 266.0,656.1 266.0,653.1 267.9,653.1 267.9,642.3 269.7,642.3 269.7,640.7 271.6,640.7 271.6,640.2 273.4,640.2 273.4,641.6 275.3,641.6 275.3,645.8 277.2,645.8 277.2,643.1 279.0,643.1 279.0,635.5 280.9,635.5 280.9,629.1 282.7,629.1 282.7,626.0 284.6,626.0 284.6,625.3 286.4,625.3 286.4,626.1 288.3,626.1 288.3,627.0 290.1,627.0 290.1,625.7 292.0,625.7 292.0,621.1 293.9,621.1 293.9,619.1 295.7,619.1 295.7,618.2 297.6,618.2 297.6,621.6 299.4,621.6 299.4,627.6 301.3,627.6 301.3,631.0 303.1,631.0 303.1,635.2 305.0,635.2 305.0,633.1 306.9,633.1 306.9,625.6 308.7,625.6 308.7,622.4 310.6,622.4 310.6,619.2 312.4,619.2 312.4,613.4 314.3,613.4 314.3,612.4 316.1,612.4 316.1,618.4 318.0,618.4 318.0,622.5 319.8,622.5 319.8,623.1 321.7,623.1 321.7,618.2 323.6,618.2 323.6,610.1 325.4,610.1 325.4,601.1 327.3,601.1 327.3,591.8 329.1,591.8 329.1,584.9 331.0,584.9 331.0,577.5 332.8,577.5 332.8,569.1 334.7,569.1 334.7,560.5 336.5,560.5 336.5,558.8 338.4,558.8 338.4,559.9 340.3,559.9 340.3,562.8 342.1,562.8 342.1,583.7 344.0,583.7 344.0,595.2 345.8,595.2 345.8,597.1 347.7,597.1 347.7,594.1 349.5,594.1 349.5,588.6 351.4,588.6 351.4,582.3 353.2,582.3 353.2,574.3 355.1,574.3 355.1,564.5 357.0,564.5 357.0,557.7 358.8,557.7 358.8,558.4 360.7,558.4 360.7,560.7 362.5,560.7 362.5,563.8 364.4,563.8 364.4,567.7 366.2,567.7 366.2,575.0 368.1,575.0 368.1,581.2 369.9,581.2 369.9,586.8 371.8,586.8 371.8,590.6 373.7,590.6 373.7,583.1 375.5,583.1 375.5,587.7 377.4,587.7 377.4,584.5 379.2,584.5 379.2,580.2 381.1,580.2 381.1,587.8 382.9,587.8 382.9,596.0 384.8,596.0 384.8,597.2 386.7,597.2 386.7,601.7 388.5,601.7 388.5,592.5 390.4,592.5 390.4,547.3 392.2,547.3 392.2,526.5 394.1,526.5 394.1,553.4 395.9,553.4 395.9,590.5 397.8,590.5 397.8,614.4 399.6,614.4 399.6,609.4 401.5,609.4 401.5,600.3 403.4,600.3 403.4,614.1 405.2,614.1 405.2,633.2 407.1,633.2 407.1,645.7 408.9,645.7 408.9,643.3 410.8,643.3 410.8,643.5 412.6,643.5 412.6,642.5 414.5,642.5 414.5,635.4 416.3,635.4 416.3,634.3 418.2,634.3 418.2,631.4 420.1,631.4 420.1,614.1 421.9,614.1 421.9,598.4 423.8,598.4 423.8,586.1 425.6,586.1 425.6,580.0 427.5,580.0 427.5,583.5 429.3,583.5 429.3,592.4 431.2,592.4 431.2,610.2 433.0,610.2 433.0,628.3 434.9,628.3 434.9,639.9 436.8,639.9 436.8,645.5 438.6,645.5 438.6,646.6 440.5,646.6 440.5,641.1 442.3,641.1 442.3,634.8 444.2,634.8 444.2,628.4 446.0,628.4 446.0,619.6 447.9,619.6 447.9,602.3 449.7,602.3 449.7,592.3 451.6,592.3 451.6,589.9 453.5,589.9 453.5,590.0 455.3,590.0 455.3,591.8 457.2,591.8 457.2,589.8 459.0,589.8 459.0,581.4 460.9,581.4 460.9,577.5 462.7,577.5 462.7,549.9 464.6,549.9 464.6,507.2 466.5,507.2 466.5,480.1 468.3,480.1 468.3,469.4 470.2,469.4 470.2,477.0 472.0,477.0 472.0,521.5 473.9,521.5 473.9,545.4 475.7,545.4 475.7,546.1 477.6,546.1 477.6,551.1 479.4,551.1 479.4,561.2 481.3,561.2 481.3,575.3 483.2,575.3 483.2,584.0 485.0,584.0 485.0,551.2 486.9,551.2 486.9,550.6 488.7,550.6 488.7,562.0 490.6,562.0 490.6,567.5 492.4,567.5 492.4,564.1 494.3,564.1 494.3,557.5 496.1,557.5 496.1,550.4 498.0,550.4 498.0,552.4 499.9,552.4 499.9,560.9 501.7,560.9 501.7,545.5 503.6,545.5 503.6,549.8 505.4,549.8 505.4,560.7 507.3,560.7 507.3,557.4 509.1,557.4 509.1,541.1 511.0,541.1 511.0,517.9 512.8,517.9 512.8,486.5 514.7,486.5 514.7,469.5 516.6,469.5 516.6,487.3 518.4,487.3 518.4,520.5 520.3,520.5 520.3,571.8 522.1,571.8 522.1,579.4 524.0,579.4 524.0,567.9 525.8,567.9 525.8,552.6 527.7,552.6 527.7,555.6 529.6,555.6 529.6,573.0 531.4,573.0 531.4,582.9 533.3,582.9 533.3,548.2 535.1,548.2 535.1,534.6 537.0,534.6 537.0,538.6 538.8,538.6 538.8,545.0 540.7,545.0 540.7,560.1 542.5,560.1 542.5,573.4 544.4,573.4 544.4,574.2 546.3,574.2 546.3,561.0 548.1,561.0 548.1,547.6 550.0,547.6 550.0,534.6 551.8,534.6 551.8,526.1 553.7,526.1 553.7,522.5 555.5,522.5 555.5,498.3 557.4,498.3 557.4,484.5 559.2,484.5 559.2,486.8 561.1,486.8 561.1,512.1 563.0,512.1 563.0,537.7 564.8,537.7 564.8,548.6 566.7,548.6 566.7,549.4 568.5,549.4 568.5,547.6 570.4,547.6 570.4,556.4 572.2,556.4 572.2,564.4 574.1,564.4 574.1,565.8 575.9,565.8 575.9,563.1 577.8,563.1 577.8,594.7 579.7,594.7 579.7,617.6 581.5,617.6 581.5,624.3 583.4,624.3 583.4,627.5 585.2,627.5 585.2,630.4 587.1,630.4 587.1,633.5 588.9,633.5 588.9,636.8 590.8,636.8 590.8,641.2 592.6,641.2 592.6,637.8 594.5,637.8 594.5,628.0 596.4,628.0 596.4,614.3 598.2,614.3 598.2,608.3 600.1,608.3 600.1,604.9 601.9,604.9 601.9,607.7 603.8,607.7 603.8,610.9 605.6,610.9 605.6,605.0 607.5,605.0 607.5,598.9 609.4,598.9 609.4,595.9 611.2,595.9 611.2,596.9 613.1,596.9 613.1,598.7 614.9,598.7 614.9,595.5 616.8,595.5 616.8,591.2 618.6,591.2 618.6,590.4 620.5,590.4 620.5,598.3 622.3,598.3 622.3,604.9 624.2,604.9 624.2,606.1 626.1,606.1 626.1,604.1 627.9,604.1 627.9,601.9 629.8,601.9 629.8,604.2 631.6,604.2 631.6,608.3 633.5,608.3 633.5,618.3 635.3,618.3 635.3,622.4 637.2,622.4 637.2,614.3 639.0,614.3 639.0,605.3 640.9,605.3 640.9,605.5 642.8,605.5 642.8,606.5 644.6,606.5 644.6,602.3 646.5,602.3 646.5,593.9 648.3,593.9 648.3,581.1 650.2,581.1 650.2,562.0 652.0,562.0 652.0,571.0 653.9,571.0 653.9,608.4 655.7,608.4 655.7,614.6 657.6,614.6 657.6,620.3 659.5,620.3 659.5,626.4 661.3,626.4 661.3,627.7 663.2,627.7 663.2,623.9 665.0,623.9 665.0,620.9 666.9,620.9 666.9,617.8 668.7,617.8 668.7,613.3 670.6,613.3 670.6,607.8 672.4,607.8 672.4,603.5 674.3,603.5 674.3,605.5 676.2,605.5 676.2,611.7 678.0,611.7 678.0,617.4 679.9,617.4 679.9,620.5 681.7,620.5 681.7,618.0 683.6,618.0 683.6,616.4 685.4,616.4 685.4,616.3 687.3,616.3 687.3,616.1 689.2,616.1 689.2,615.3 691.0,615.3 691.0,613.8 692.9,613.8 692.9,611.9 694.7,611.9 694.7,609.3 696.6,609.3 696.6,604.6 698.4,604.6 698.4,599.6 700.3,599.6 700.3,599.5 702.1,599.5 702.1,610.1 704.0,610.1 704.0,618.8 705.9,618.8 705.9,624.1 707.7,624.1 707.7,627.5 709.6,627.5 709.6,618.5 711.4,618.5 711.4,612.4 713.3,612.4 713.3,612.3 715.1,612.3 715.1,613.0 717.0,613.0 717.0,614.6 718.8,614.6 718.8,619.1 720.7,619.1 720.7,622.6 722.6,622.6 722.6,622.8 724.4,622.8 724.4,619.6 726.3,619.6 726.3,615.9 728.1,615.9 728.1,611.6 730.0,611.6 730.0,606.6 731.8,606.6 731.8,598.5 733.7,598.5 733.7,589.8 735.5,589.8 735.5,578.6 737.4,578.6 737.4,565.4 739.3,565.4 739.3,557.0 741.1,557.0 741.1,567.2 743.0,567.2 743.0,589.0 744.8,589.0 744.8,601.2 746.7,601.2 746.7,609.7 748.5,609.7 748.5,616.7 750.4,616.7 750.4,619.3 752.3,619.3 752.3,614.9 754.1,614.9 754.1,590.2 756.0,590.2 756.0,587.4 757.8,587.4 757.8,596.2 759.7,596.2 759.7,604.3 761.5,604.3 761.5,614.6 763.4,614.6 763.4,621.7 765.2,621.7 765.2,625.3 767.1,625.3 767.1,628.5 769.0,628.5 769.0,630.8 770.8,630.8 770.8,627.4 772.7,627.4 772.7,615.0 774.5,615.0 774.5,603.3 776.4,603.3 776.4,600.7 778.2,600.7 778.2,594.8 780.1,594.8 780.1,586.3 781.9,586.3 781.9,579.1 783.8,579.1 783.8,570.5 785.7,570.5 785.7,564.5 787.5,564.5 787.5,578.8 789.4,578.8 789.4,603.6 791.2,603.6 791.2,615.2 793.1,615.2 793.1,621.0 794.9,621.0 794.9,623.6 796.8,623.6 796.8,625.4 798.6,625.4 798.6,626.0 800.5,626.0 800.5,621.3 802.4,621.3 802.4,613.1 804.2,613.1 804.2,610.7 806.1,610.7 806.1,612.3 807.9,612.3 807.9,615.5 809.8,615.5 809.8,621.6 811.6,621.6 811.6,622.7 813.5,622.7 813.5,622.3 815.3,622.3 815.3,622.2 817.2,622.2 817.2,614.4 819.1,614.4 819.1,605.1 820.9,605.1 820.9,594.5 822.8,594.5 822.8,583.2 824.6,583.2 824.6,584.2 826.5,584.2 826.5,596.8 828.3,596.8 828.3,603.0 830.2,603.0 830.2,604.7 832.1,604.7 832.1,624.2 833.9,624.2 833.9,633.4 835.8,633.4 835.8,636.7 837.6,636.7 837.6,644.6 839.5,644.6 839.5,656.1 841.3,656.1 841.3,668.8 843.2,668.8 843.2,655.0 845.0,655.0 845.0,652.0 846.9,652.0 846.9,652.6 848.8,652.6 848.8,656.8 850.6,656.8 850.6,666.1 852.5,666.1 852.5,669.6 854.3,669.6 854.3,658.3 856.2,658.3 856.2,655.7 858.0,655.7 858.0,654.4 859.9,654.4 859.9,651.5 861.7,651.5 861.7,625.9 863.6,625.9 863.6,571.2 865.5,571.2 865.5,527.3 867.3,527.3 867.3,511.1 869.2,511.1 869.2,516.2 871.0,516.2 871.0,545.2 872.9,545.2 872.9,565.1 874.7,565.1 874.7,578.6 876.6,578.6 876.6,594.1 878.4,594.1 878.4,604.2 880.3,604.2 880.3,607.3 882.2,607.3 882.2,614.7 884.0,614.7 884.0,622.0 885.9,622.0 885.9,626.9 887.7,626.9 887.7,631.4 889.6,631.4 889.6,631.6 891.4,631.6 891.4,629.8 893.3,629.8 893.3,625.2 895.1,625.2 895.1,620.2 897.0,620.2 897.0,605.5 898.9,605.5 898.9,587.1 900.7,587.1 900.7,586.4 902.6,586.4 902.6,583.0 904.4,583.0 904.4,526.9 906.3,526.9 906.3,518.3 908.1,518.3 908.1,517.9 910.0,517.9 910.0,545.2 911.9,545.2 911.9,585.4 913.7,585.4 913.7,592.9 915.6,592.9 915.6,566.4 917.4,566.4 917.4,545.3 919.3,545.3 919.3,535.5 921.1,535.5 921.1,553.5 923.0,553.5 923.0,590.8 924.8,590.8 924.8,611.7 926.7,611.7 926.7,613.7 928.6,613.7 928.6,618.6 930.4,618.6 930.4,624.1 932.3,624.1 932.3,630.3 934.1,630.3 934.1,634.6 936.0,634.6 936.0,637.9 937.8,637.9 937.8,640.3 939.7,640.3 939.7,642.6 941.5,642.6 941.5,643.0 943.4,643.0 943.4,642.7 945.3,642.7 945.3,641.8 947.1,641.8 947.1,631.5 949.0,631.5 949.0,618.6 950.8,618.6 950.8,616.8 952.7,616.8 952.7,615.7 954.5,615.7 954.5,614.5 956.4,614.5 956.4,612.4 958.2,612.4 958.2,607.2 960.1,607.2 960.1,603.2 962.0,603.2 962.0,599.5 963.8,599.5 963.8,577.5 965.7,577.5 965.7,572.4 967.5,572.4 967.5,592.0 969.4,592.0 969.4,605.3 971.2,605.3 971.2,614.3 973.1,614.3 973.1,627.3 975.0,627.3 975.0,626.0 976.8,626.0 976.8,624.4 978.7,624.4 978.7,623.0 980.5,623.0 980.5,618.2 982.4,618.2 982.4,610.1 984.2,610.1 984.2,609.1 986.1,609.1 986.1,610.3 987.9,610.3 987.9,610.6 989.8,610.6 989.8,608.3 991.7,608.3 991.7,606.3 993.5,606.3 993.5,609.7 995.4,609.7 995.4,619.1 997.2,619.1 997.2,611.0 999.1,611.0 999.1,598.1 1000.9,598.1 1000.9,581.6 1002.8,581.6 1002.8,564.7 1004.6,564.7 1004.6,568.7 1006.5,568.7 1006.5,579.1 1008.4,579.1 1008.4,578.3 1010.2,578.3 1010.2,583.5 1012.1,583.5 1012.1,593.2 1013.9,593.2 1013.9,600.5 1015.8,600.5 1015.8,606.8 1017.6,606.8 1017.6,610.5 1019.5,610.5 1019.5,613.8 1021.3,613.8 1021.3,617.3 1023.2,617.3 1023.2,623.0 1025.1,623.0 1025.1,630.6 1026.9,630.6 1026.9,639.2 1028.8,639.2 1028.8,643.7 1030.6,643.7 1030.6,647.3 1032.5,647.3 1032.5,649.6 1034.3,649.6 1034.3,650.9 1036.2,650.9 1036.2,652.1 1038.0,652.1 1038.0,653.4 1039.9,653.4 1039.9,654.5 1041.8,654.5 1041.8,655.3 1043.6,655.3 1043.6,655.4 1045.5,655.4 1045.5,652.0 1047.3,652.0 1047.3,639.9 1049.2,639.9 1049.2,622.2 1051.0,622.2 1051.0,621.6 1052.9,621.6 1052.9,625.3 1054.8,625.3 1054.8,629.1 1056.6,629.1 1056.6,634.3 1058.5,634.3 1058.5,639.9 1060.3,639.9 1060.3,645.0 1062.2,645.0 1062.2,647.0 1064.0,647.0 1064.0,641.6 1065.9,641.6 1065.9,636.4 1067.7,636.4 1067.7,632.6 1069.6,632.6 1069.6,628.9 1071.5,628.9 1071.5,627.6 1073.3,627.6 1073.3,637.0 1075.2,637.0 1075.2,646.4 1077.0,646.4 1077.0,606.6 1078.9,606.6 1078.9,568.4 1080.7,568.4 1080.7,563.7 1082.6,563.7 1082.6,569.7 1084.4,569.7 1084.4,568.5 1086.3,568.5 1086.3,567.7 1088.2,567.7 1088.2,567.7 1090.0,567.7 1090.0,554.9 1091.9,554.9 1091.9,548.4 1093.7,548.4 1093.7,547.4 1095.6,547.4 1095.6,555.4 1097.4,555.4 1097.4,567.6 1099.3,567.6 1099.3,575.1 1101.1,575.1 1101.1,579.8 1103.0,579.8 1103.0,567.4 1104.9,567.4 1104.9,478.0 1106.7,478.0 1106.7,466.8 1108.6,466.8 1108.6,466.8 1110.4,466.8 1110.4,466.8 1112.3,466.8 1112.3,466.8 1114.1,466.8 1114.1,466.8 1116.0,466.8 1116.0,466.8 1117.8,466.8 1117.8,466.8 1119.7,466.8 1119.7,466.8 1121.6,466.8 1121.6,466.8 1123.4,466.8 1123.4,466.8 1125.3,466.8 1125.3,466.8 1127.1,466.8 1127.1,466.8 1129.0,466.8 1129.0,466.8 1130.8,466.8 1130.8,466.9 1132.7,466.9 1132.7,467.3 1134.6,467.3 1134.6,467.8 1136.4,467.8 1136.4,472.9 1138.3,472.9 1138.3,471.6 1140.1,471.6 1140.1,475.1 1142.0,475.1 1142.0,533.4 1143.8,533.4 1143.8,499.8 1145.7,499.8 1145.7,494.9 1147.5,494.9 1147.5,470.3 1149.4,470.3 1149.4,466.8 1151.3,466.8 1151.3,466.8 1153.1,466.8 1153.1,466.8 1155.0,466.8 1155.0,466.8 1156.8,466.8 1156.8,466.8 1158.7,466.8 1158.7,466.8 1160.5,466.8 1160.5,466.8 1162.4,466.8 1162.4,466.8 1164.2,466.8 1164.2,467.0 1166.1,467.0 1166.1,470.9 1168.0,470.9 1168.0,481.6 1169.8,481.6 1169.8,493.7 1171.7,493.7 1171.7,509.2 1173.5,509.2 1173.5,524.8 1175.4,524.8 1175.4,549.0 1177.2,549.0 1177.2,570.1 1179.1,570.1 1179.1,583.3 1180.9,583.3 1180.9,589.4 1182.8,589.4 1182.8,592.8 1184.7,592.8 1184.7,576.5 1186.5,576.5 1186.5,575.5 1188.4,575.5 1188.4,559.1 1190.2,559.1 1190.2,566.9 1192.1,566.9 1192.1,583.4 1193.9,583.4 1193.9,587.7 1195.8,587.7 1195.8,590.0 1197.7,590.0 1197.7,592.1 1199.5,592.1 1199.5,596.9 1201.4,596.9 1201.4,603.6 1203.2,603.6 1203.2,596.9 1205.1,596.9 1205.1,580.7 1206.9,580.7 1206.9,579.9 1208.8,579.9 1208.8,583.0 1210.6,583.0 1210.6,587.8 1212.5,587.8 1212.5,600.8 1214.4,600.8 1214.4,592.6 1216.2,592.6 1216.2,575.0 1218.1,575.0 1218.1,558.6 1219.9,558.6 1219.9,560.4 1221.8,560.4 1221.8,569.5 1223.6,569.5 1223.6,587.9 1225.5,587.9 1225.5,577.5 1227.3,577.5 1227.3,556.1 1229.2,556.1 1229.2,558.9 1231.1,558.9 1231.1,580.0 1232.9,580.0 1232.9,597.8 1234.8,597.8 1234.8,609.4 1236.6,609.4 1236.6,613.7 1238.5,613.7 1238.5,612.5 1240.3,612.5 1240.3,602.5 1242.2,602.5 1242.2,591.4 1244.0,591.4 1244.0,580.2 1245.9,580.2 1245.9,577.2 1247.8,577.2 1247.8,576.2 1249.6,576.2 1249.6,575.3 1251.5,575.3 1251.5,574.3 1253.3,574.3 1253.3,573.5 1255.2,573.5 1255.2,574.6 1257.0,574.6 1257.0,578.7 1258.9,578.7 1258.9,574.7 1260.7,574.7 1260.7,570.9 1262.6,570.9 1262.6,572.9 1264.5,572.9 1264.5,581.6 1266.3,581.6 1266.3,580.9 1268.2,580.9 1268.2,577.1 1270.0,577.1 1270.0,570.2 1271.9,570.2 1271.9,567.1 1273.7,567.1 1273.7,577.3 1275.6,577.3 1275.6,592.4 1277.5,592.4 1277.5,597.3 1279.3,597.3 1279.3,601.5 1281.2,601.5 1281.2,603.4 1283.0,603.4 1283.0,604.1 1284.9,604.1 1284.9,604.9 1286.7,604.9 1286.7,606.1 1288.6,606.1 1288.6,603.8 1290.4,603.8 1290.4,603.3 1292.3,603.3 1292.3,607.1 1294.2,607.1 1294.2,609.3 1296.0,609.3 1296.0,609.9 1297.9,609.9 1297.9,610.6 1299.7,610.6 1299.7,612.4 1301.6,612.4 1301.6,612.2 1303.4,612.2 1303.4,610.1 1305.3,610.1 1305.3,607.7 1307.1,607.7 1307.1,608.7 1309.0,608.7 1309.0,612.4 1310.9,612.4 1310.9,615.9 1312.7,615.9 1312.7,618.7 1314.6,618.7 1314.6,621.1 1316.4,621.1 1316.4,623.1 1318.3,623.1 1318.3,624.9 1320.1,624.9 1320.1,630.7 1322.0,630.7 1322.0,635.7 1323.8,635.7 1323.8,634.5 1325.7,634.5 1325.7,632.8 1327.6,632.8 1327.6,630.9 1329.4,630.9 1329.4,629.1 1331.3,629.1 1331.3,626.8 1333.1,626.8 1333.1,624.0 1335.0,624.0 1335.0,624.6 1336.8,624.6 1336.8,629.0 1338.7,629.0 1338.7,631.2 1340.5,631.2 1340.5,629.2 1342.4,629.2 1342.4,627.0 1344.3,627.0 1344.3,629.2 1346.1,629.2 1346.1,633.8 1348.0,633.8 1348.0,627.7 1349.8,627.7 1349.8,613.3 1351.7,613.3 1351.7,601.9 1353.5,601.9 1353.5,596.8 1355.4,596.8 1355.4,596.1 1357.3,596.1 1357.3,600.9 1359.1,600.9 1359.1,588.4 1361.0,588.4 1361.0,578.4 1362.8,578.4 1362.8,574.0 1364.7,574.0 1364.7,577.1 1366.5,577.1 1366.5,583.1 1368.4,583.1 1368.4,589.9 1370.2,589.9 1370.2,596.5 1372.1,596.5 1372.1,597.7 1374.0,597.7 1374.0,598.0 1375.8,598.0 1375.8,596.9 1377.7,596.9 1377.7,595.9 1379.5,595.9 1379.5,600.1 1381.4,600.1 1381.4,617.4 1383.2,617.4 1383.2,627.5 1385.1,627.5 1385.1,622.7 1386.9,622.7 1386.9,622.3 1388.8,622.3 1388.8,620.6 1390.7,620.6 1390.7,617.0 1392.5,617.0 1392.5,616.4 1394.4,616.4 1394.4,613.6 1396.2,613.6 1396.2,608.0 1398.1,608.0 1398.1,603.5 1399.9,603.5 1399.9,598.9 1401.8,598.9 1401.8,592.8 1403.6,592.8 1403.6,572.6 1405.5,572.6 1405.5,558.1 1407.4,558.1 1407.4,555.4 1409.2,555.4 1409.2,576.4 1411.1,576.4 1411.1,586.5 1412.9,586.5 1412.9,598.1 1414.8,598.1 1414.8,601.7 1416.6,601.7 1416.6,599.5 1418.5,599.5 1418.5,597.0 1420.4,597.0 1420.4,596.0 1422.2,596.0 1422.2,593.2 1424.1,593.2 1424.1,590.2 1425.9,590.2 1425.9,592.7 1427.8,592.7 1427.8,599.5 1429.6,599.5 1429.6,608.9 1431.5,608.9 1431.5,611.9 1433.3,611.9 1433.3,613.2 1435.2,613.2 1435.2,614.8 1437.1,614.8 1437.1,578.5 1438.9,578.5 1438.9,568.5 1440.8,568.5 1440.8,575.4 1442.6,575.4 1442.6,578.0 1444.5,578.0 1444.5,555.5 1446.3,555.5 1446.3,473.2 1448.2,473.2 1448.2,491.2 1450.0,491.2 1450.0,662.5 1451.9,662.5 1451.9,662.5 1453.8,662.5 1453.8,582.3 1455.6,582.3 1455.6,582.3 1457.5,582.3 1457.5,599.8 1459.3,599.8 1459.3,597.4 1461.2,597.4 1461.2,596.1 1463.0,596.1 1463.0,602.8 1464.9,602.8 1464.9,608.9 1466.7,608.9 1466.7,611.8 1467.8,611.8 1467.8,670.5" fill="#c0c0c0"/>
<rect x="138.3" y="614.6" width="1.7" height="7.1" fill="#000"/>
<rect x="141.9" y="614.6" width="1.7" height="4.5" fill="#000"/>
<rect x="152.4" y="576.7" width="1.7" height="25.4" fill="#000"/>
<rect x="155.2" y="572.3" width="1.7" height="24.1" fill="#000"/>
<rect x="182.5" y="583.8" width="2.7" height="23.7" fill="#000"/>
<rect x="186.1" y="586.7" width="2.1" height="11.8" fill="#000"/>
<rect x="211.9" y="598.6" width="1.6" height="7.4" fill="#000"/>
<rect x="226.0" y="577.9" width="1.6" height="7.4" fill="#000"/>
<rect x="230.9" y="581.7" width="1.7" height="21.4" fill="#000"/>
<rect x="233.7" y="579.9" width="1.7" height="26.8" fill="#000"/>
<rect x="249.8" y="631.2" width="2.1" height="10.4" fill="#000"/>
<rect x="255.3" y="652.0" width="1.7" height="3.3" fill="#000"/>
<rect x="258.1" y="649.7" width="1.7" height="5.5" fill="#000"/>
<rect x="286.9" y="626.7" width="2.7" height="10.4" fill="#000"/>
<rect x="293.3" y="619.3" width="1.6" height="5.9" fill="#000"/>
<rect x="301.1" y="631.2" width="1.6" height="5.9" fill="#000"/>
<rect x="397.1" y="608.9" width="1.6" height="3.0" fill="#000"/>
<rect x="433.6" y="633.4" width="1.6" height="6.7" fill="#000"/>
<rect x="438.7" y="645.2" width="1.6" height="6.7" fill="#000"/>
<rect x="442.5" y="637.1" width="1.6" height="5.9" fill="#000"/>
<rect x="464.2" y="518.6" width="2.1" height="44.4" fill="#000"/>
<rect x="467.1" y="487.5" width="1.6" height="23.7" fill="#000"/>
<rect x="474.9" y="552.3" width="1.7" height="26.6" fill="#000"/>
<rect x="477.7" y="556.4" width="1.7" height="16.8" fill="#000"/>
<rect x="480.4" y="576.4" width="1.6" height="38.5" fill="#000"/>
<rect x="485.6" y="548.2" width="1.6" height="47.4" fill="#000"/>
<rect x="494.6" y="552.7" width="2.1" height="29.6" fill="#000"/>
<rect x="498.2" y="549.7" width="1.6" height="25.2" fill="#000"/>
<rect x="502.0" y="555.6" width="2.1" height="14.8" fill="#000"/>
<rect x="548.6" y="536.4" width="2.1" height="22.2" fill="#000"/>
<rect x="549.0" y="536.4" width="1.6" height="22.2" fill="#000"/>
<rect x="567.6" y="546.8" width="2.1" height="16.3" fill="#000"/>
<rect x="573.1" y="560.2" width="1.7" height="13.9" fill="#000"/>
<rect x="575.3" y="562.5" width="1.7" height="11.1" fill="#000"/>
<rect x="577.5" y="563.0" width="1.7" height="11.1" fill="#000"/>
<rect x="578.6" y="613.4" width="1.6" height="11.8" fill="#000"/>
<rect x="599.5" y="604.5" width="2.1" height="8.9" fill="#000"/>
<rect x="610.5" y="595.6" width="1.6" height="19.2" fill="#000"/>
<rect x="614.9" y="592.7" width="1.6" height="19.2" fill="#000"/>
<rect x="618.0" y="589.7" width="2.1" height="22.2" fill="#000"/>
<rect x="626.4" y="602.5" width="1.7" height="5.7" fill="#000"/>
<rect x="628.6" y="602.2" width="1.7" height="5.4" fill="#000"/>
<rect x="630.7" y="602.3" width="1.7" height="6.5" fill="#000"/>
<rect x="635.6" y="626.7" width="1.6" height="4.4" fill="#000"/>
<rect x="672.7" y="603.0" width="2.1" height="16.3" fill="#000"/>
<rect x="705.3" y="620.8" width="2.1" height="11.8" fill="#000"/>
<rect x="723.0" y="619.3" width="1.6" height="3.0" fill="#000"/>
<rect x="728.9" y="613.4" width="1.6" height="14.8" fill="#000"/>
<rect x="731.8" y="593.5" width="1.7" height="17.5" fill="#000"/>
<rect x="734.7" y="589.3" width="1.7" height="18.4" fill="#000"/>
<rect x="756.3" y="594.1" width="1.6" height="29.6" fill="#000"/>
<rect x="759.2" y="601.5" width="1.6" height="11.8" fill="#000"/>
<rect x="755.0" y="603.0" width="1.7" height="15.1" fill="#000"/>
<rect x="757.5" y="601.7" width="1.7" height="14.8" fill="#000"/>
<rect x="760.1" y="600.4" width="1.7" height="15.9" fill="#000"/>
<rect x="770.3" y="626.7" width="2.7" height="7.4" fill="#000"/>
<rect x="823.5" y="582.3" width="2.1" height="7.4" fill="#000"/>
<rect x="854.6" y="654.8" width="2.1" height="4.4" fill="#000"/>
<rect x="894.2" y="620.1" width="1.7" height="6.5" fill="#000"/>
<rect x="896.6" y="617.1" width="1.7" height="11.7" fill="#000"/>
<rect x="899.0" y="617.9" width="1.7" height="11.9" fill="#000"/>
<rect x="901.4" y="620.1" width="1.7" height="8.3" fill="#000"/>
<rect x="899.9" y="583.8" width="2.7" height="38.5" fill="#000"/>
<rect x="905.7" y="523.1" width="2.1" height="71.1" fill="#000"/>
<rect x="916.7" y="567.5" width="1.6" height="10.4" fill="#000"/>
<rect x="962.6" y="598.6" width="1.6" height="5.9" fill="#000"/>
<rect x="1106.4" y="466.8" width="6.7" height="81.4" fill="#000"/>
<rect x="1113.0" y="466.8" width="16.3" height="37.0" fill="#000"/>
<rect x="1105.2" y="548.2" width="1.6" height="56.3" fill="#000"/>
<rect x="1079.0" y="590.3" width="1.7" height="38.5" fill="#000"/>
<rect x="1081.8" y="574.1" width="1.7" height="53.5" fill="#000"/>
<rect x="1084.9" y="567.7" width="1.7" height="4.8" fill="#000"/>
<rect x="1087.8" y="568.0" width="1.7" height="6.5" fill="#000"/>
<rect x="1000.2" y="586.7" width="2.1" height="4.4" fill="#000"/>
<rect x="1010.9" y="595.1" width="1.7" height="12.0" fill="#000"/>
<rect x="1014.5" y="597.6" width="1.7" height="7.1" fill="#000"/>
<rect x="1009.4" y="610.4" width="1.6" height="4.4" fill="#000"/>
<rect x="1023.4" y="620.8" width="1.6" height="7.4" fill="#000"/>
<rect x="1031.2" y="647.4" width="1.6" height="5.9" fill="#000"/>
<rect x="1044.7" y="651.9" width="2.7" height="5.9" fill="#000"/>
<rect x="1139.0" y="466.8" width="1.6" height="37.0" fill="#000"/>
<rect x="1143.2" y="532.0" width="2.7" height="34.1" fill="#000"/>
<rect x="1177.0" y="564.5" width="1.6" height="4.4" fill="#000"/>
<rect x="1179.7" y="593.4" width="1.7" height="14.9" fill="#000"/>
<rect x="1183.4" y="593.9" width="1.7" height="12.6" fill="#000"/>
<rect x="1180.5" y="585.3" width="1.6" height="19.2" fill="#000"/>
<rect x="1184.2" y="585.3" width="1.6" height="35.5" fill="#000"/>
<rect x="1186.8" y="574.9" width="1.6" height="32.6" fill="#000"/>
<rect x="1204.3" y="589.7" width="2.1" height="17.8" fill="#000"/>
<rect x="1207.3" y="579.3" width="2.7" height="22.2" fill="#000"/>
<rect x="1211.7" y="589.7" width="2.1" height="17.8" fill="#000"/>
<rect x="1223.1" y="572.5" width="1.7" height="15.4" fill="#000"/>
<rect x="1226.0" y="575.0" width="1.7" height="7.8" fill="#000"/>
<rect x="1231.2" y="579.3" width="1.6" height="7.4" fill="#000"/>
<rect x="1245.8" y="576.4" width="2.7" height="23.7" fill="#000"/>
<rect x="1249.5" y="574.9" width="2.7" height="22.2" fill="#000"/>
<rect x="1253.1" y="573.4" width="2.1" height="23.7" fill="#000"/>
<rect x="1267.9" y="576.4" width="2.1" height="11.8" fill="#000"/>
<rect x="1271.5" y="566.0" width="1.6" height="35.5" fill="#000"/>
<rect x="1287.2" y="611.9" width="2.1" height="3.0" fill="#000"/>
<rect x="1321.1" y="635.6" width="1.6" height="10.4" fill="#000"/>
<rect x="1325.7" y="629.7" width="2.1" height="5.9" fill="#000"/>
<rect x="1347.0" y="626.7" width="1.6" height="2.2" fill="#000"/>
<rect x="1357.5" y="603.0" width="2.1" height="4.4" fill="#000"/>
<rect x="1379.6" y="595.6" width="1.6" height="35.5" fill="#000"/>
<rect x="1381.5" y="618.5" width="1.7" height="9.4" fill="#000"/>
<rect x="1383.7" y="618.5" width="1.7" height="6.8" fill="#000"/>
<rect x="1385.9" y="619.0" width="1.7" height="7.8" fill="#000"/>
<rect x="1388.1" y="618.0" width="1.7" height="10.1" fill="#000"/>
<rect x="1177.5" y="564.5" width="1.6" height="4.4" fill="#000"/>
<rect x="1436.7" y="601.0" width="2.0" height="18.2" fill="#000"/>
<rect x="1439.4" y="567.4" width="1.6" height="15.4" fill="#000"/>
<rect x="1401.9" y="592.6" width="2.5" height="2.8" fill="#000"/>
<rect x="1413.5" y="603.8" width="1.6" height="4.2" fill="#000"/>
<rect x="1379.4" y="595.4" width="2.0" height="23.8" fill="#000"/>
<rect x="1381.1" y="619.4" width="1.7" height="7.9" fill="#000"/>
<rect x="1383.4" y="620.2" width="1.7" height="7.0" fill="#000"/>
<rect x="1385.6" y="620.0" width="1.7" height="4.9" fill="#000"/>
<rect x="1387.9" y="619.0" width="1.7" height="6.6" fill="#000"/>
<rect x="1394.6" y="615.0" width="1.6" height="2.8" fill="#000"/>
<polygon points="1107.1,455.0 1107.1,449.1 1110.8,444.6 1112.3,432.8 1114.5,441.6 1117.5,437.2 1119.7,432.0 1121.9,441.6 1124.2,450.5 1124.2,455.0" fill="#000"/>
<polygon points="1148.6,455.0 1150.8,444.6 1153.0,440.2 1156.0,449.1 1157.5,455.0" fill="#c0c0c0"/>
<polygon points="1150.1,452.0 1151.8,443.1 1153.3,440.2 1154.8,450.5 1155.2,452.8" fill="#000"/>
<polygon points="345.4,597.1 348.3,595.6 351.3,583.8 354.2,571.9 357.9,557.1 360.9,560.8 364.6,567.5 367.6,577.9 370.5,586.7 370.5,611.9 367.6,613.4 364.6,611.9 361.6,614.9 358.7,613.4 355.7,614.9 352.8,622.3 351.3,620.8 348.3,611.9 345.4,606.0" fill="#000"/>
<polygon points="447.5,622.3 450.5,592.7 453.4,589.7 457.9,580.8 460.8,577.9 463.1,563.0 464.5,533.4 466.0,518.6 467.2,487.5 469.0,487.5 468.7,511.2 466.8,563.0 464.1,574.9 461.1,604.5 458.2,622.3 454.2,632.6 450.8,634.1 448.3,634.1" fill="#000"/>
<line x1="131.8" y1="424.2" x2="131.8" y2="452.2" stroke="#888" stroke-width="2.2"/>
<line x1="131.8" y1="468.2" x2="131.8" y2="670.5" stroke="#888" stroke-width="2.2"/>
<line x1="130.8" y1="425.2" x2="1469.0" y2="425.2" stroke="#222" stroke-width="2"/>
<line x1="130.8" y1="670.5" x2="1469.0" y2="670.5" stroke="#555" stroke-width="2"/>
<line x1="131.8" y1="670.5" x2="131.8" y2="677.0" stroke="#222" stroke-width="2"/>
<line x1="176.3" y1="670.5" x2="176.3" y2="674.0" stroke="#222" stroke-width="2"/>
<line x1="220.9" y1="670.5" x2="220.9" y2="674.0" stroke="#222" stroke-width="2"/>
<line x1="265.4" y1="670.5" x2="265.4" y2="674.0" stroke="#222" stroke-width="2"/>
<line x1="310.0" y1="670.5" x2="310.0" y2="674.0" stroke="#222" stroke-width="2"/>
<line x1="354.5" y1="670.5" x2="354.5" y2="677.0" stroke="#222" stroke-width="2"/>
<line x1="399.0" y1="670.5" x2="399.0" y2="674.0" stroke="#222" stroke-width="2"/>
<line x1="443.6" y1="670.5" x2="443.6" y2="674.0" stroke="#222" stroke-width="2"/>
<line x1="488.1" y1="670.5" x2="488.1" y2="674.0" stroke="#222" stroke-width="2"/>
<line x1="532.7" y1="670.5" x2="532.7" y2="674.0" stroke="#222" stroke-width="2"/>
<line x1="577.2" y1="670.5" x2="577.2" y2="677.0" stroke="#222" stroke-width="2"/>
<line x1="621.7" y1="670.5" x2="621.7" y2="674.0" stroke="#222" stroke-width="2"/>
<line x1="666.3" y1="670.5" x2="666.3" y2="674.0" stroke="#222" stroke-width="2"/>
<line x1="710.8" y1="670.5" x2="710.8" y2="674.0" stroke="#222" stroke-width="2"/>
<line x1="755.4" y1="670.5" x2="755.4" y2="674.0" stroke="#222" stroke-width="2"/>
<line x1="799.9" y1="670.5" x2="799.9" y2="677.0" stroke="#222" stroke-width="2"/>
<line x1="844.4" y1="670.5" x2="844.4" y2="674.0" stroke="#222" stroke-width="2"/>
<line x1="889.0" y1="670.5" x2="889.0" y2="674.0" stroke="#222" stroke-width="2"/>
<line x1="933.5" y1="670.5" x2="933.5" y2="674.0" stroke="#222" stroke-width="2"/>
<line x1="978.1" y1="670.5" x2="978.1" y2="674.0" stroke="#222" stroke-width="2"/>
<line x1="1022.6" y1="670.5" x2="1022.6" y2="677.0" stroke="#222" stroke-width="2"/>
<line x1="1067.1" y1="670.5" x2="1067.1" y2="674.0" stroke="#222" stroke-width="2"/>
<line x1="1111.7" y1="670.5" x2="1111.7" y2="674.0" stroke="#222" stroke-width="2"/>
<line x1="1156.2" y1="670.5" x2="1156.2" y2="674.0" stroke="#222" stroke-width="2"/>
<line x1="1200.8" y1="670.5" x2="1200.8" y2="674.0" stroke="#222" stroke-width="2"/>
<line x1="1245.3" y1="670.5" x2="1245.3" y2="677.0" stroke="#222" stroke-width="2"/>
<line x1="1289.8" y1="670.5" x2="1289.8" y2="674.0" stroke="#222" stroke-width="2"/>
<line x1="1334.4" y1="670.5" x2="1334.4" y2="674.0" stroke="#222" stroke-width="2"/>
<line x1="1378.9" y1="670.5" x2="1378.9" y2="674.0" stroke="#222" stroke-width="2"/>
<line x1="1423.5" y1="670.5" x2="1423.5" y2="674.0" stroke="#222" stroke-width="2"/>
<line x1="1468.0" y1="670.5" x2="1468.0" y2="677.0" stroke="#222" stroke-width="2"/>
<text x="131.8" y="720.0" font-size="27" text-anchor="middle" font-weight="normal" fill="#000" >1</text>
<text x="354.5" y="720.0" font-size="27" text-anchor="middle" font-weight="normal" fill="#000" >6</text>
<text x="577.2" y="720.0" font-size="27" text-anchor="middle" font-weight="normal" fill="#000" >11</text>
<text x="799.9" y="720.0" font-size="27" text-anchor="middle" font-weight="normal" fill="#000" >16</text>
<text x="1022.6" y="720.0" font-size="27" text-anchor="middle" font-weight="normal" fill="#000" >21</text>
<text x="1245.3" y="720.0" font-size="27" text-anchor="middle" font-weight="normal" fill="#000" >26</text>
<text x="801.2" y="757.5" font-size="27" text-anchor="middle" font-weight="normal" fill="#000" >April 2016</text>
<line x1="123.8" y1="670.4" x2="131.8" y2="670.4" stroke="#222" stroke-width="2"/>
<line x1="123.8" y1="619.1" x2="131.8" y2="619.1" stroke="#222" stroke-width="2"/>
<line x1="123.8" y1="568.4" x2="131.8" y2="568.4" stroke="#222" stroke-width="2"/>
<line x1="123.8" y1="517.5" x2="131.8" y2="517.5" stroke="#222" stroke-width="2"/>
<text x="109.0" y="678.1" font-size="27" text-anchor="end" font-weight="normal" fill="#000" >0</text>
<text x="109.0" y="626.9" font-size="27" text-anchor="end" font-weight="normal" fill="#000" >50</text>
<text x="109.0" y="576.4" font-size="27" text-anchor="end" font-weight="normal" fill="#000" >100</text>
<text x="109.0" y="524.6" font-size="27" text-anchor="end" font-weight="normal" fill="#000" >150</text>
<text x="109.0" y="482.2" font-size="27" text-anchor="end" font-weight="normal" fill="#000" >200</text>
<text x="109.0" y="446.2" font-size="27" text-anchor="end" font-weight="normal" fill="#000" >400</text>
<line x1="118.8" y1="469.7" x2="143.8" y2="443.7" stroke="#333" stroke-width="1.3"/>
<line x1="118.8" y1="479.7" x2="143.8" y2="453.7" stroke="#333" stroke-width="1.3"/>
<line x1="1455.0" y1="469.7" x2="1480.0" y2="443.7" stroke="#333" stroke-width="1.3"/>
<line x1="1455.0" y1="479.7" x2="1480.0" y2="453.7" stroke="#333" stroke-width="1.3"/>
<text transform="translate(38.7,611.5) rotate(-90)" font-size="27">PM<tspan font-size="16" dy="9.5">10</tspan><tspan dy="-9.5"> (&#181;g m</tspan><tspan font-size="15" dy="-11.6">-3</tspan><tspan dy="11.6">)</tspan></text>
<line x1="134.4" y1="780.0" x2="134.4" y2="812.0" stroke="#111" stroke-width="2.2"/>
<line x1="134.4" y1="823.0" x2="134.4" y2="1026.3" stroke="#111" stroke-width="2.2"/>
<polygon points="133.0,1026.3 133.0,962.5 134.4,962.5 136.2,962.5 136.2,962.7 138.0,962.7 138.0,965.2 139.8,965.2 139.8,968.7 141.6,968.7 141.6,972.4 143.4,972.4 143.4,975.2 145.2,975.2 145.2,971.0 147.0,971.0 147.0,968.9 148.8,968.9 148.8,967.4 150.6,967.4 150.6,967.8 152.4,967.8 152.4,978.1 154.2,978.1 154.2,970.2 156.0,970.2 156.0,968.7 157.7,968.7 157.7,972.2 159.5,972.2 159.5,976.2 161.3,976.2 161.3,981.0 163.1,981.0 163.1,985.8 164.9,985.8 164.9,992.9 166.7,992.9 166.7,998.2 168.5,998.2 168.5,998.8 170.3,998.8 170.3,994.9 172.1,994.9 172.1,986.8 173.9,986.8 173.9,987.0 175.7,987.0 175.7,991.3 177.5,991.3 177.5,981.5 179.3,981.5 179.3,977.5 181.1,977.5 181.1,977.8 182.9,977.8 182.9,978.4 184.7,978.4 184.7,979.8 186.5,979.8 186.5,981.9 188.3,981.9 188.3,979.6 190.1,979.6 190.1,977.3 191.9,977.3 191.9,976.1 193.7,976.1 193.7,974.9 195.5,974.9 195.5,970.3 197.3,970.3 197.3,963.1 199.1,963.1 199.1,962.9 200.9,962.9 200.9,965.0 202.7,965.0 202.7,959.7 204.4,959.7 204.4,955.4 206.2,955.4 206.2,955.5 208.0,955.5 208.0,932.3 209.8,932.3 209.8,942.8 211.6,942.8 211.6,983.7 213.4,983.7 213.4,989.5 215.2,989.5 215.2,991.1 217.0,991.1 217.0,992.0 218.8,992.0 218.8,995.9 220.6,995.9 220.6,1004.1 222.4,1004.1 222.4,1001.3 224.2,1001.3 224.2,1001.2 226.0,1001.2 226.0,1003.0 227.8,1003.0 227.8,1004.8 229.6,1004.8 229.6,1006.2 231.4,1006.2 231.4,1007.4 233.2,1007.4 233.2,1009.0 235.0,1009.0 235.0,1011.8 236.8,1011.8 236.8,1010.4 238.6,1010.4 238.6,977.8 240.4,977.8 240.4,973.7 242.2,973.7 242.2,1004.5 244.0,1004.5 244.0,1000.5 245.8,1000.5 245.8,998.5 247.6,998.5 247.6,995.6 249.4,995.6 249.4,992.4 251.1,992.4 251.1,994.2 252.9,994.2 252.9,1001.1 254.7,1001.1 254.7,1003.9 256.5,1003.9 256.5,1003.5 258.3,1003.5 258.3,994.0 260.1,994.0 260.1,985.5 261.9,985.5 261.9,981.6 263.7,981.6 263.7,966.4 265.5,966.4 265.5,944.0 267.3,944.0 267.3,923.5 269.1,923.5 269.1,919.0 270.9,919.0 270.9,928.4 272.7,928.4 272.7,950.9 274.5,950.9 274.5,954.4 276.3,954.4 276.3,933.3 278.1,933.3 278.1,926.3 279.9,926.3 279.9,899.3 281.7,899.3 281.7,896.7 283.5,896.7 283.5,932.5 285.3,932.5 285.3,939.6 287.1,939.6 287.1,943.7 288.9,943.7 288.9,941.7 290.7,941.7 290.7,941.1 292.5,941.1 292.5,966.6 294.3,966.6 294.3,975.8 296.0,975.8 296.0,974.7 297.8,974.7 297.8,979.0 299.6,979.0 299.6,978.9 301.4,978.9 301.4,976.4 303.2,976.4 303.2,982.6 305.0,982.6 305.0,989.0 306.8,989.0 306.8,984.3 308.6,984.3 308.6,978.2 310.4,978.2 310.4,971.0 312.2,971.0 312.2,967.4 314.0,967.4 314.0,969.9 315.8,969.9 315.8,974.0 317.6,974.0 317.6,975.5 319.4,975.5 319.4,963.9 321.2,963.9 321.2,934.0 323.0,934.0 323.0,934.4 324.8,934.4 324.8,943.4 326.6,943.4 326.6,948.6 328.4,948.6 328.4,939.8 330.2,939.8 330.2,942.6 332.0,942.6 332.0,948.5 333.8,948.5 333.8,952.6 335.6,952.6 335.6,955.1 337.4,955.1 337.4,955.5 339.2,955.5 339.2,961.0 341.0,961.0 341.0,969.3 342.7,969.3 342.7,973.4 344.5,973.4 344.5,976.7 346.3,976.7 346.3,967.2 348.1,967.2 348.1,963.9 349.9,963.9 349.9,978.4 351.7,978.4 351.7,982.1 353.5,982.1 353.5,980.4 355.3,980.4 355.3,977.7 357.1,977.7 357.1,972.3 358.9,972.3 358.9,966.9 360.7,966.9 360.7,965.2 362.5,965.2 362.5,964.3 364.3,964.3 364.3,970.3 366.1,970.3 366.1,963.5 367.9,963.5 367.9,948.4 369.7,948.4 369.7,963.7 371.5,963.7 371.5,990.3 373.3,990.3 373.3,995.6 375.1,995.6 375.1,1000.3 376.9,1000.3 376.9,1002.6 378.7,1002.6 378.7,992.3 380.5,992.3 380.5,987.6 382.3,987.6 382.3,983.6 384.1,983.6 384.1,984.3 385.9,984.3 385.9,974.6 387.7,974.6 387.7,904.4 389.4,904.4 389.4,829.2 391.2,829.2 391.2,823.3 393.0,823.3 393.0,823.3 394.8,823.3 394.8,823.3 396.6,823.3 396.6,826.8 398.4,826.8 398.4,892.1 400.2,892.1 400.2,1024.6 402.0,1024.6 402.0,1024.6 403.8,1024.6 403.8,1024.6 405.6,1024.6 405.6,1024.6 407.4,1024.6 407.4,1024.6 409.2,1024.6 409.2,1024.6 411.0,1024.6 411.0,1024.6 412.8,1024.6 412.8,942.1 414.6,942.1 414.6,936.6 416.4,936.6 416.4,949.6 418.2,949.6 418.2,963.5 420.0,963.5 420.0,976.6 421.8,976.6 421.8,981.8 423.6,981.8 423.6,985.2 425.4,985.2 425.4,984.1 427.2,984.1 427.2,982.9 429.0,982.9 429.0,981.7 430.8,981.7 430.8,980.5 432.6,980.5 432.6,978.9 434.3,978.9 434.3,977.0 436.1,977.0 436.1,975.7 437.9,975.7 437.9,975.0 439.7,975.0 439.7,974.4 441.5,974.4 441.5,974.5 443.3,974.5 443.3,976.9 445.1,976.9 445.1,978.9 446.9,978.9 446.9,976.3 448.7,976.3 448.7,972.4 450.5,972.4 450.5,966.8 452.3,966.8 452.3,961.8 454.1,961.8 454.1,958.7 455.9,958.7 455.9,955.7 457.7,955.7 457.7,955.1 459.5,955.1 459.5,955.7 461.3,955.7 461.3,955.0 463.1,955.0 463.1,950.9 464.9,950.9 464.9,948.0 466.7,948.0 466.7,950.2 468.5,950.2 468.5,954.7 470.3,954.7 470.3,959.1 472.1,959.1 472.1,961.3 473.9,961.3 473.9,962.0 475.7,962.0 475.7,959.3 477.5,959.3 477.5,955.7 479.3,955.7 479.3,955.1 481.0,955.1 481.0,955.1 482.8,955.1 482.8,955.1 484.6,955.1 484.6,955.7 486.4,955.7 486.4,959.3 488.2,959.3 488.2,962.9 490.0,962.9 490.0,965.7 491.8,965.7 491.8,964.0 493.6,964.0 493.6,960.5 495.4,960.5 495.4,952.7 497.2,952.7 497.2,944.3 499.0,944.3 499.0,941.9 500.8,941.9 500.8,942.2 502.6,942.2 502.6,942.6 504.4,942.6 504.4,943.5 506.2,943.5 506.2,950.8 508.0,950.8 508.0,961.8 509.8,961.8 509.8,969.6 511.6,969.6 511.6,970.4 513.4,970.4 513.4,971.3 515.2,971.3 515.2,983.3 517.0,983.3 517.0,970.5 518.8,970.5 518.8,965.5 520.6,965.5 520.6,959.6 522.4,959.6 522.4,951.7 524.2,951.7 524.2,949.6 526.0,949.6 526.0,953.6 527.7,953.6 527.7,959.5 529.5,959.5 529.5,979.3 531.3,979.3 531.3,1002.8 533.1,1002.8 533.1,1007.5 534.9,1007.5 534.9,1000.9 536.7,1000.9 536.7,997.7 538.5,997.7 538.5,994.7 540.3,994.7 540.3,993.8 542.1,993.8 542.1,996.7 543.9,996.7 543.9,1000.3 545.7,1000.3 545.7,1003.6 547.5,1003.6 547.5,1006.6 549.3,1006.6 549.3,1009.4 551.1,1009.4 551.1,1010.8 552.9,1010.8 552.9,1011.8 554.7,1011.8 554.7,1007.8 556.5,1007.8 556.5,1003.1 558.3,1003.1 558.3,1001.5 560.1,1001.5 560.1,1007.4 561.9,1007.4 561.9,1011.4 563.7,1011.4 563.7,1010.2 565.5,1010.2 565.5,998.2 567.3,998.2 567.3,996.7 569.1,996.7 569.1,998.2 570.9,998.2 570.9,999.6 572.6,999.6 572.6,1001.8 574.4,1001.8 574.4,1003.8 576.2,1003.8 576.2,1003.9 578.0,1003.9 578.0,1003.9 579.8,1003.9 579.8,1000.3 581.6,1000.3 581.6,993.2 583.4,993.2 583.4,984.4 585.2,984.4 585.2,980.5 587.0,980.5 587.0,980.8 588.8,980.8 588.8,976.4 590.6,976.4 590.6,970.3 592.4,970.3 592.4,970.0 594.2,970.0 594.2,973.0 596.0,973.0 596.0,982.6 597.8,982.6 597.8,989.0 599.6,989.0 599.6,993.5 601.4,993.5 601.4,1000.5 603.2,1000.5 603.2,1002.2 605.0,1002.2 605.0,991.9 606.8,991.9 606.8,982.0 608.6,982.0 608.6,980.4 610.4,980.4 610.4,982.1 612.2,982.1 612.2,980.7 614.0,980.7 614.0,979.0 615.8,979.0 615.8,981.7 617.6,981.7 617.6,990.5 619.3,990.5 619.3,1007.7 621.1,1007.7 621.1,987.5 622.9,987.5 622.9,979.0 624.7,979.0 624.7,977.6 626.5,977.6 626.5,980.9 628.3,980.9 628.3,977.7 630.1,977.7 630.1,967.6 631.9,967.6 631.9,964.2 633.7,964.2 633.7,965.0 635.5,965.0 635.5,966.4 637.3,966.4 637.3,970.2 639.1,970.2 639.1,978.1 640.9,978.1 640.9,984.4 642.7,984.4 642.7,991.6 644.5,991.6 644.5,1006.1 646.3,1006.1 646.3,1002.5 648.1,1002.5 648.1,984.4 649.9,984.4 649.9,974.5 651.7,974.5 651.7,969.7 653.5,969.7 653.5,969.2 655.3,969.2 655.3,974.5 657.1,974.5 657.1,960.9 658.9,960.9 658.9,953.5 660.7,953.5 660.7,951.7 662.5,951.7 662.5,964.0 664.3,964.0 664.3,988.5 666.0,988.5 666.0,1000.7 667.8,1000.7 667.8,999.0 669.6,999.0 669.6,998.4 671.4,998.4 671.4,995.0 673.2,995.0 673.2,988.1 675.0,988.1 675.0,983.7 676.8,983.7 676.8,979.9 678.6,979.9 678.6,976.3 680.4,976.3 680.4,973.6 682.2,973.6 682.2,971.7 684.0,971.7 684.0,970.0 685.8,970.0 685.8,971.2 687.6,971.2 687.6,977.1 689.4,977.1 689.4,974.6 691.2,974.6 691.2,971.8 693.0,971.8 693.0,975.7 694.8,975.7 694.8,984.1 696.6,984.1 696.6,982.3 698.4,982.3 698.4,977.7 700.2,977.7 700.2,978.1 702.0,978.1 702.0,980.3 703.8,980.3 703.8,982.7 705.6,982.7 705.6,985.7 707.4,985.7 707.4,988.5 709.2,988.5 709.2,990.7 710.9,990.7 710.9,992.6 712.7,992.6 712.7,995.1 714.5,995.1 714.5,991.8 716.3,991.8 716.3,988.2 718.1,988.2 718.1,984.3 719.9,984.3 719.9,980.0 721.7,980.0 721.7,975.8 723.5,975.8 723.5,971.6 725.3,971.6 725.3,967.2 727.1,967.2 727.1,965.9 728.9,965.9 728.9,972.4 730.7,972.4 730.7,988.6 732.5,988.6 732.5,994.1 734.3,994.1 734.3,988.1 736.1,988.1 736.1,987.1 737.9,987.1 737.9,986.5 739.7,986.5 739.7,984.1 741.5,984.1 741.5,979.8 743.3,979.8 743.3,977.5 745.1,977.5 745.1,978.3 746.9,978.3 746.9,979.8 748.7,979.8 748.7,977.3 750.5,977.3 750.5,969.4 752.3,969.4 752.3,968.8 754.1,968.8 754.1,974.4 755.9,974.4 755.9,977.6 757.6,977.6 757.6,969.2 759.4,969.2 759.4,967.1 761.2,967.1 761.2,968.7 763.0,968.7 763.0,971.5 764.8,971.5 764.8,990.3 766.6,990.3 766.6,999.2 768.4,999.2 768.4,1007.0 770.2,1007.0 770.2,1018.2 772.0,1018.2 772.0,1024.6 773.8,1024.6 773.8,1024.6 775.6,1024.6 775.6,1018.2 777.4,1018.2 777.4,1017.9 779.2,1017.9 779.2,1019.7 781.0,1019.7 781.0,1015.3 782.8,1015.3 782.8,1010.5 784.6,1010.5 784.6,1005.4 786.4,1005.4 786.4,999.8 788.2,999.8 788.2,996.5 790.0,996.5 790.0,995.7 791.8,995.7 791.8,994.8 793.6,994.8 793.6,986.8 795.4,986.8 795.4,980.7 797.2,980.7 797.2,981.2 799.0,981.2 799.0,982.9 800.8,982.9 800.8,984.8 802.6,984.8 802.6,986.4 804.3,986.4 804.3,982.5 806.1,982.5 806.1,972.9 807.9,972.9 807.9,958.7 809.7,958.7 809.7,956.6 811.5,956.6 811.5,957.2 813.3,957.2 813.3,957.9 815.1,957.9 815.1,959.7 816.9,959.7 816.9,962.5 818.7,962.5 818.7,967.7 820.5,967.7 820.5,966.5 822.3,966.5 822.3,961.2 824.1,961.2 824.1,954.9 825.9,954.9 825.9,948.6 827.7,948.6 827.7,941.8 829.5,941.8 829.5,938.0 831.3,938.0 831.3,943.8 833.1,943.8 833.1,954.4 834.9,954.4 834.9,953.8 836.7,953.8 836.7,954.5 838.5,954.5 838.5,958.1 840.3,958.1 840.3,961.4 842.1,961.4 842.1,959.7 843.9,959.7 843.9,960.4 845.7,960.4 845.7,961.8 847.5,961.8 847.5,938.6 849.2,938.6 849.2,929.6 851.0,929.6 851.0,936.5 852.8,936.5 852.8,946.4 854.6,946.4 854.6,955.7 856.4,955.7 856.4,944.7 858.2,944.7 858.2,942.0 860.0,942.0 860.0,960.5 861.8,960.5 861.8,964.8 863.6,964.8 863.6,964.2 865.4,964.2 865.4,967.6 867.2,967.6 867.2,970.9 869.0,970.9 869.0,972.5 870.8,972.5 870.8,972.9 872.6,972.9 872.6,968.8 874.4,968.8 874.4,967.0 876.2,967.0 876.2,967.4 878.0,967.4 878.0,967.5 879.8,967.5 879.8,963.4 881.6,963.4 881.6,956.8 883.4,956.8 883.4,947.9 885.2,947.9 885.2,948.5 887.0,948.5 887.0,965.0 888.8,965.0 888.8,969.4 890.6,969.4 890.6,973.1 892.4,973.1 892.4,974.5 894.2,974.5 894.2,975.8 895.9,975.8 895.9,976.5 897.7,976.5 897.7,977.1 899.5,977.1 899.5,978.4 901.3,978.4 901.3,980.3 903.1,980.3 903.1,981.9 904.9,981.9 904.9,983.1 906.7,983.1 906.7,984.6 908.5,984.6 908.5,990.3 910.3,990.3 910.3,991.0 912.1,991.0 912.1,983.7 913.9,983.7 913.9,983.2 915.7,983.2 915.7,983.2 917.5,983.2 917.5,982.0 919.3,982.0 919.3,980.2 921.1,980.2 921.1,977.1 922.9,977.1 922.9,971.0 924.7,971.0 924.7,966.0 926.5,966.0 926.5,968.3 928.3,968.3 928.3,975.4 930.1,975.4 930.1,976.3 931.9,976.3 931.9,972.7 933.7,972.7 933.7,971.4 935.5,971.4 935.5,971.3 937.3,971.3 937.3,971.1 939.1,971.1 939.1,970.3 940.8,970.3 940.8,970.6 942.6,970.6 942.6,980.5 944.4,980.5 944.4,993.3 946.2,993.3 946.2,996.2 948.0,996.2 948.0,998.4 949.8,998.4 949.8,997.0 951.6,997.0 951.6,996.9 953.4,996.9 953.4,1000.9 955.2,1000.9 955.2,1000.7 957.0,1000.7 957.0,997.7 958.8,997.7 958.8,987.2 960.6,987.2 960.6,971.6 962.4,971.6 962.4,959.3 964.2,959.3 964.2,964.1 966.0,964.1 966.0,978.7 967.8,978.7 967.8,968.7 969.6,968.7 969.6,963.4 971.4,963.4 971.4,970.7 973.2,970.7 973.2,979.3 975.0,979.3 975.0,982.9 976.8,982.9 976.8,981.8 978.6,981.8 978.6,977.1 980.4,977.1 980.4,975.1 982.2,975.1 982.2,911.9 984.0,911.9 984.0,888.5 985.8,888.5 985.8,931.7 987.5,931.7 987.5,933.8 989.3,933.8 989.3,929.2 991.1,929.2 991.1,938.4 992.9,938.4 992.9,974.7 994.7,974.7 994.7,977.4 996.5,977.4 996.5,988.5 998.3,988.5 998.3,997.5 1000.1,997.5 1000.1,999.3 1001.9,999.3 1001.9,995.3 1003.7,995.3 1003.7,989.6 1005.5,989.6 1005.5,989.6 1007.3,989.6 1007.3,990.8 1009.1,990.8 1009.1,989.6 1010.9,989.6 1010.9,986.0 1012.7,986.0 1012.7,980.7 1014.5,980.7 1014.5,972.2 1016.3,972.2 1016.3,968.8 1018.1,968.8 1018.1,970.9 1019.9,970.9 1019.9,973.8 1021.7,973.8 1021.7,972.8 1023.5,972.8 1023.5,971.9 1025.3,971.9 1025.3,977.7 1027.1,977.7 1027.1,985.8 1028.9,985.8 1028.9,986.9 1030.7,986.9 1030.7,978.7 1032.5,978.7 1032.5,974.6 1034.2,974.6 1034.2,975.2 1036.0,975.2 1036.0,976.4 1037.8,976.4 1037.8,975.4 1039.6,975.4 1039.6,974.4 1041.4,974.4 1041.4,974.3 1043.2,974.3 1043.2,974.3 1045.0,974.3 1045.0,973.2 1046.8,973.2 1046.8,972.0 1048.6,972.0 1048.6,971.6 1050.4,971.6 1050.4,974.5 1052.2,974.5 1052.2,962.9 1054.0,962.9 1054.0,946.1 1055.8,946.1 1055.8,947.3 1057.6,947.3 1057.6,953.9 1059.4,953.9 1059.4,960.2 1061.2,960.2 1061.2,964.9 1063.0,964.9 1063.0,969.1 1064.8,969.1 1064.8,973.0 1066.6,973.0 1066.6,977.1 1068.4,977.1 1068.4,979.3 1070.2,979.3 1070.2,964.1 1072.0,964.1 1072.0,950.3 1073.8,950.3 1073.8,950.4 1075.6,950.4 1075.6,952.7 1077.4,952.7 1077.4,955.8 1079.1,955.8 1079.1,967.9 1080.9,967.9 1080.9,966.6 1082.7,966.6 1082.7,961.4 1084.5,961.4 1084.5,958.5 1086.3,958.5 1086.3,957.5 1088.1,957.5 1088.1,956.9 1089.9,956.9 1089.9,956.6 1091.7,956.6 1091.7,957.6 1093.5,957.6 1093.5,959.5 1095.3,959.5 1095.3,962.0 1097.1,962.0 1097.1,968.7 1098.9,968.7 1098.9,958.5 1100.7,958.5 1100.7,950.1 1102.5,950.1 1102.5,953.8 1104.3,953.8 1104.3,953.3 1106.1,953.3 1106.1,928.7 1107.9,928.7 1107.9,902.4 1109.7,902.4 1109.7,899.0 1111.5,899.0 1111.5,918.9 1113.3,918.9 1113.3,942.8 1115.1,942.8 1115.1,959.2 1116.9,959.2 1116.9,962.4 1118.7,962.4 1118.7,972.8 1120.5,972.8 1120.5,981.1 1122.3,981.1 1122.3,978.7 1124.1,978.7 1124.1,959.8 1125.8,959.8 1125.8,931.8 1127.6,931.8 1127.6,947.9 1129.4,947.9 1129.4,982.4 1131.2,982.4 1131.2,986.0 1133.0,986.0 1133.0,989.5 1134.8,989.5 1134.8,992.6 1136.6,992.6 1136.6,996.6 1138.4,996.6 1138.4,1012.8 1140.2,1012.8 1140.2,1012.8 1142.0,1012.8 1142.0,1005.5 1143.8,1005.5 1143.8,997.6 1145.6,997.6 1145.6,990.6 1147.4,990.6 1147.4,983.1 1149.2,983.1 1149.2,979.1 1151.0,979.1 1151.0,979.9 1152.8,979.9 1152.8,982.2 1154.6,982.2 1154.6,990.6 1156.4,990.6 1156.4,993.2 1158.2,993.2 1158.2,990.2 1160.0,990.2 1160.0,986.9 1161.8,986.9 1161.8,983.2 1163.6,983.2 1163.6,979.7 1165.4,979.7 1165.4,975.1 1167.2,975.1 1167.2,968.9 1169.0,968.9 1169.0,960.4 1170.8,960.4 1170.8,950.4 1172.5,950.4 1172.5,943.2 1174.3,943.2 1174.3,939.3 1176.1,939.3 1176.1,942.7 1177.9,942.7 1177.9,945.2 1179.7,945.2 1179.7,940.6 1181.5,940.6 1181.5,940.5 1183.3,940.5 1183.3,941.1 1185.1,941.1 1185.1,939.1 1186.9,939.1 1186.9,935.5 1188.7,935.5 1188.7,929.9 1190.5,929.9 1190.5,921.8 1192.3,921.8 1192.3,923.0 1194.1,923.0 1194.1,924.3 1195.9,924.3 1195.9,917.0 1197.7,917.0 1197.7,916.6 1199.5,916.6 1199.5,933.3 1201.3,933.3 1201.3,924.1 1203.1,924.1 1203.1,918.8 1204.9,918.8 1204.9,923.0 1206.7,923.0 1206.7,923.6 1208.5,923.6 1208.5,906.5 1210.3,906.5 1210.3,901.1 1212.1,901.1 1212.1,897.4 1213.9,897.4 1213.9,894.2 1215.7,894.2 1215.7,891.1 1217.4,891.1 1217.4,890.5 1219.2,890.5 1219.2,897.1 1221.0,897.1 1221.0,904.2 1222.8,904.2 1222.8,909.1 1224.6,909.1 1224.6,919.3 1226.4,919.3 1226.4,920.7 1228.2,920.7 1228.2,912.8 1230.0,912.8 1230.0,913.4 1231.8,913.4 1231.8,918.2 1233.6,918.2 1233.6,922.7 1235.4,922.7 1235.4,925.4 1237.2,925.4 1237.2,927.0 1239.0,927.0 1239.0,919.5 1240.8,919.5 1240.8,911.1 1242.6,911.1 1242.6,899.3 1244.4,899.3 1244.4,885.4 1246.2,885.4 1246.2,892.9 1248.0,892.9 1248.0,923.3 1249.8,923.3 1249.8,929.4 1251.6,929.4 1251.6,933.3 1253.4,933.3 1253.4,929.0 1255.2,929.0 1255.2,920.1 1257.0,920.1 1257.0,919.6 1258.8,919.6 1258.8,938.2 1260.6,938.2 1260.6,956.4 1262.4,956.4 1262.4,965.1 1264.1,965.1 1264.1,959.7 1265.9,959.7 1265.9,954.4 1267.7,954.4 1267.7,940.3 1269.5,940.3 1269.5,928.4 1271.3,928.4 1271.3,935.1 1273.1,935.1 1273.1,923.5 1274.9,923.5 1274.9,922.1 1276.7,922.1 1276.7,935.5 1278.5,935.5 1278.5,938.6 1280.3,938.6 1280.3,926.9 1282.1,926.9 1282.1,926.0 1283.9,926.0 1283.9,948.3 1285.7,948.3 1285.7,948.4 1287.5,948.4 1287.5,948.2 1289.3,948.2 1289.3,954.3 1291.1,954.3 1291.1,956.3 1292.9,956.3 1292.9,943.5 1294.7,943.5 1294.7,935.3 1296.5,935.3 1296.5,939.8 1298.3,939.8 1298.3,948.7 1300.1,948.7 1300.1,945.2 1301.9,945.2 1301.9,938.6 1303.7,938.6 1303.7,937.3 1305.5,937.3 1305.5,937.3 1307.3,937.3 1307.3,937.9 1309.1,937.9 1309.1,947.0 1310.8,947.0 1310.8,954.9 1312.6,954.9 1312.6,951.4 1314.4,951.4 1314.4,944.7 1316.2,944.7 1316.2,937.5 1318.0,937.5 1318.0,934.9 1319.8,934.9 1319.8,939.6 1321.6,939.6 1321.6,930.1 1323.4,930.1 1323.4,919.0 1325.2,919.0 1325.2,920.3 1327.0,920.3 1327.0,926.1 1328.8,926.1 1328.8,948.3 1330.6,948.3 1330.6,964.0 1332.4,964.0 1332.4,970.8 1334.2,970.8 1334.2,968.4 1336.0,968.4 1336.0,950.5 1337.8,950.5 1337.8,945.5 1339.6,945.5 1339.6,944.5 1341.4,944.5 1341.4,943.6 1343.2,943.6 1343.2,943.4 1345.0,943.4 1345.0,945.6 1346.8,945.6 1346.8,948.7 1348.6,948.7 1348.6,952.2 1350.4,952.2 1350.4,957.3 1352.2,957.3 1352.2,954.5 1354.0,954.5 1354.0,947.9 1355.7,947.9 1355.7,944.3 1357.5,944.3 1357.5,940.6 1359.3,940.6 1359.3,942.1 1361.1,942.1 1361.1,955.2 1362.9,955.2 1362.9,958.9 1364.7,958.9 1364.7,955.5 1366.5,955.5 1366.5,950.9 1368.3,950.9 1368.3,946.1 1370.1,946.1 1370.1,943.1 1371.9,943.1 1371.9,940.6 1373.7,940.6 1373.7,937.8 1375.5,937.8 1375.5,934.3 1377.3,934.3 1377.3,930.8 1379.1,930.8 1379.1,929.3 1380.9,929.3 1380.9,927.8 1382.7,927.8 1382.7,924.4 1384.5,924.4 1384.5,920.8 1386.3,920.8 1386.3,920.0 1388.1,920.0 1388.1,925.4 1389.9,925.4 1389.9,932.5 1391.7,932.5 1391.7,943.0 1393.5,943.0 1393.5,949.5 1395.3,949.5 1395.3,949.2 1397.1,949.2 1397.1,944.0 1398.9,944.0 1398.9,937.8 1400.7,937.8 1400.7,936.0 1402.4,936.0 1402.4,935.2 1404.2,935.2 1404.2,937.0 1406.0,937.0 1406.0,936.1 1407.8,936.1 1407.8,928.4 1409.6,928.4 1409.6,919.0 1411.4,919.0 1411.4,919.0 1413.2,919.0 1413.2,922.2 1415.0,922.2 1415.0,929.6 1416.8,929.6 1416.8,940.7 1418.6,940.7 1418.6,934.4 1420.4,934.4 1420.4,922.3 1422.2,922.3 1422.2,913.3 1424.0,913.3 1424.0,904.5 1425.8,904.5 1425.8,894.5 1427.6,894.5 1427.6,881.6 1429.4,881.6 1429.4,882.5 1431.2,882.5 1431.2,898.9 1433.0,898.9 1433.0,926.6 1434.8,926.6 1434.8,940.4 1436.6,940.4 1436.6,953.2 1438.4,953.2 1438.4,958.3 1440.2,958.3 1440.2,956.4 1442.0,956.4 1442.0,949.2 1443.8,949.2 1443.8,938.8 1445.6,938.8 1445.6,942.4 1447.4,942.4 1447.4,958.1 1449.1,958.1 1449.1,954.4 1450.9,954.4 1450.9,946.7 1452.7,946.7 1452.7,940.8 1454.5,940.8 1454.5,938.4 1456.3,938.4 1456.3,944.4 1458.1,944.4 1458.1,958.5 1459.9,958.5 1459.9,971.1 1461.7,971.1 1461.7,974.3 1463.5,974.3 1463.5,984.6 1465.3,984.6 1465.3,986.7 1467.1,986.7 1467.1,982.5 1468.9,982.5 1468.9,980.1 1470.7,980.1 1470.7,1026.3" fill="#c0c0c0"/>
<rect x="155.7" y="966.9" width="1.6" height="11.8" fill="#000"/>
<rect x="160.3" y="974.3" width="2.7" height="14.8" fill="#000"/>
<rect x="174.3" y="990.6" width="2.1" height="4.4" fill="#000"/>
<rect x="179.0" y="977.6" width="1.7" height="4.7" fill="#000"/>
<rect x="181.6" y="978.8" width="1.7" height="3.6" fill="#000"/>
<rect x="184.1" y="979.3" width="1.7" height="3.1" fill="#000"/>
<rect x="198.8" y="958.0" width="2.7" height="11.8" fill="#000"/>
<rect x="220.2" y="998.0" width="2.1" height="8.9" fill="#000"/>
<rect x="267.1" y="927.4" width="1.7" height="29.5" fill="#000"/>
<rect x="270.0" y="922.9" width="1.7" height="52.9" fill="#000"/>
<rect x="291.1" y="938.8" width="1.6" height="26.6" fill="#000"/>
<rect x="320.4" y="939.9" width="1.7" height="22.8" fill="#000"/>
<rect x="322.6" y="946.6" width="1.7" height="19.6" fill="#000"/>
<rect x="324.7" y="948.0" width="1.7" height="20.1" fill="#000"/>
<rect x="332.3" y="949.3" width="1.7" height="12.6" fill="#000"/>
<rect x="335.1" y="953.1" width="1.7" height="7.9" fill="#000"/>
<rect x="390.5" y="823.3" width="5.9" height="69.6" fill="#000"/>
<rect x="348.0" y="962.5" width="2.1" height="20.7" fill="#000"/>
<rect x="415.7" y="949.6" width="1.7" height="27.5" fill="#000"/>
<rect x="418.5" y="943.8" width="1.7" height="22.7" fill="#000"/>
<rect x="420.1" y="974.3" width="1.6" height="7.4" fill="#000"/>
<rect x="424.1" y="983.2" width="1.6" height="4.4" fill="#000"/>
<rect x="428.6" y="981.7" width="1.6" height="4.4" fill="#000"/>
<rect x="433.1" y="980.2" width="2.1" height="3.0" fill="#000"/>
<rect x="452.3" y="962.5" width="1.6" height="20.7" fill="#000"/>
<rect x="455.8" y="963.9" width="1.6" height="10.4" fill="#000"/>
<rect x="458.9" y="956.5" width="1.6" height="10.4" fill="#000"/>
<rect x="462.7" y="953.6" width="1.9" height="8.9" fill="#000"/>
<rect x="475.2" y="963.9" width="1.6" height="22.2" fill="#000"/>
<rect x="478.3" y="961.0" width="2.1" height="16.3" fill="#000"/>
<rect x="484.1" y="956.5" width="1.6" height="10.4" fill="#000"/>
<rect x="487.2" y="955.1" width="2.1" height="7.4" fill="#000"/>
<rect x="491.0" y="966.9" width="2.7" height="3.0" fill="#000"/>
<rect x="498.2" y="944.7" width="1.6" height="17.8" fill="#000"/>
<rect x="501.9" y="941.7" width="1.6" height="14.8" fill="#000"/>
<rect x="504.8" y="943.2" width="1.6" height="16.3" fill="#000"/>
<rect x="506.7" y="962.5" width="1.6" height="13.3" fill="#000"/>
<rect x="532.2" y="1009.8" width="1.6" height="7.4" fill="#000"/>
<rect x="550.2" y="1009.8" width="2.7" height="4.4" fill="#000"/>
<rect x="335.3" y="959.5" width="1.6" height="4.4" fill="#000"/>
<rect x="550.6" y="1006.9" width="2.1" height="7.4" fill="#000"/>
<rect x="566.1" y="996.5" width="2.1" height="14.8" fill="#000"/>
<rect x="586.9" y="986.2" width="2.1" height="10.4" fill="#000"/>
<rect x="590.6" y="969.9" width="2.1" height="10.4" fill="#000"/>
<rect x="610.5" y="984.7" width="1.6" height="14.8" fill="#000"/>
<rect x="613.5" y="978.7" width="1.9" height="13.3" fill="#000"/>
<rect x="643.9" y="1006.9" width="2.1" height="7.4" fill="#000"/>
<rect x="672.6" y="990.6" width="1.6" height="7.4" fill="#000"/>
<rect x="675.7" y="987.6" width="1.9" height="5.9" fill="#000"/>
<rect x="680.2" y="974.3" width="1.6" height="10.4" fill="#000"/>
<rect x="683.1" y="980.2" width="1.6" height="7.4" fill="#000"/>
<rect x="694.8" y="989.1" width="1.6" height="3.0" fill="#000"/>
<rect x="715.7" y="984.7" width="2.1" height="19.2" fill="#000"/>
<rect x="719.4" y="980.2" width="2.1" height="17.8" fill="#000"/>
<rect x="723.2" y="975.8" width="2.7" height="13.3" fill="#000"/>
<rect x="743.8" y="977.3" width="2.1" height="5.9" fill="#000"/>
<rect x="751.2" y="968.4" width="2.1" height="11.8" fill="#000"/>
<rect x="761.7" y="969.9" width="2.8" height="13.3" fill="#000"/>
<rect x="755.4" y="978.7" width="2.1" height="4.4" fill="#000"/>
<rect x="762.1" y="969.9" width="2.1" height="13.3" fill="#000"/>
<rect x="825.1" y="953.6" width="2.7" height="7.4" fill="#000"/>
<rect x="829.4" y="937.3" width="2.1" height="32.6" fill="#000"/>
<rect x="836.9" y="953.6" width="2.7" height="10.4" fill="#000"/>
<rect x="843.4" y="958.0" width="1.6" height="4.4" fill="#000"/>
<rect x="846.4" y="968.4" width="1.6" height="10.4" fill="#000"/>
<rect x="851.5" y="938.8" width="1.6" height="5.9" fill="#000"/>
<rect x="884.9" y="946.2" width="1.6" height="22.2" fill="#000"/>
<rect x="896.2" y="981.7" width="2.7" height="14.8" fill="#000"/>
<rect x="905.7" y="984.7" width="2.1" height="11.8" fill="#000"/>
<rect x="930.9" y="986.2" width="2.1" height="4.4" fill="#000"/>
<rect x="962.7" y="958.0" width="2.1" height="34.1" fill="#000"/>
<rect x="969.3" y="962.5" width="2.1" height="23.7" fill="#000"/>
<rect x="802.8" y="986.2" width="2.1" height="3.0" fill="#000"/>
<rect x="785.1" y="1006.9" width="2.7" height="4.4" fill="#000"/>
<rect x="969.8" y="962.5" width="1.6" height="23.7" fill="#000"/>
<rect x="978.3" y="982.5" width="1.7" height="13.1" fill="#000"/>
<rect x="981.9" y="980.4" width="1.7" height="14.4" fill="#000"/>
<rect x="1015.0" y="971.3" width="2.1" height="14.8" fill="#000"/>
<rect x="1019.3" y="968.4" width="1.6" height="13.3" fill="#000"/>
<rect x="1023.1" y="971.3" width="1.9" height="17.8" fill="#000"/>
<rect x="1040.1" y="974.3" width="1.6" height="8.9" fill="#000"/>
<rect x="1055.1" y="944.7" width="2.7" height="26.6" fill="#000"/>
<rect x="1059.5" y="959.5" width="2.7" height="16.3" fill="#000"/>
<rect x="1062.7" y="972.1" width="1.7" height="8.1" fill="#000"/>
<rect x="1065.6" y="972.0" width="1.7" height="7.8" fill="#000"/>
<rect x="1082.3" y="962.5" width="1.6" height="8.9" fill="#000"/>
<rect x="1101.2" y="952.9" width="1.7" height="14.4" fill="#000"/>
<rect x="1104.0" y="949.4" width="1.7" height="19.3" fill="#000"/>
<rect x="1129.7" y="981.7" width="2.1" height="11.8" fill="#000"/>
<rect x="1138.6" y="1018.7" width="2.1" height="4.4" fill="#000"/>
<rect x="1166.8" y="977.3" width="2.1" height="4.4" fill="#000"/>
<rect x="1156.7" y="996.5" width="1.6" height="3.0" fill="#000"/>
<rect x="1191.7" y="921.0" width="2.1" height="13.3" fill="#000"/>
<rect x="1208.7" y="906.2" width="2.1" height="31.1" fill="#000"/>
<rect x="1213.2" y="892.9" width="2.1" height="37.0" fill="#000"/>
<rect x="1216.9" y="889.9" width="2.1" height="51.8" fill="#000"/>
<rect x="1221.4" y="910.6" width="2.7" height="41.5" fill="#000"/>
<rect x="1234.5" y="924.0" width="1.6" height="11.8" fill="#000"/>
<rect x="1239.1" y="932.9" width="2.1" height="10.4" fill="#000"/>
<rect x="1245.6" y="884.0" width="1.6" height="35.5" fill="#000"/>
<rect x="1263.5" y="961.0" width="2.1" height="14.8" fill="#000"/>
<rect x="1272.7" y="938.8" width="1.7" height="32.4" fill="#000"/>
<rect x="1275.6" y="925.8" width="1.7" height="41.2" fill="#000"/>
<rect x="1281.3" y="922.5" width="2.1" height="35.5" fill="#000"/>
<rect x="1298.3" y="950.6" width="2.1" height="14.8" fill="#000"/>
<rect x="1317.9" y="937.9" width="1.7" height="9.3" fill="#000"/>
<rect x="1320.7" y="937.1" width="1.7" height="6.1" fill="#000"/>
<rect x="1362.7" y="940.3" width="2.1" height="23.7" fill="#000"/>
<rect x="1402.3" y="918.2" width="1.6" height="16.8" fill="#000"/>
<rect x="1405.4" y="937.8" width="2.5" height="14.0" fill="#000"/>
<rect x="1421.4" y="912.6" width="2.0" height="23.8" fill="#000"/>
<rect x="1427.7" y="880.5" width="2.0" height="15.4" fill="#000"/>
<rect x="1424.7" y="901.5" width="1.6" height="2.8" fill="#000"/>
<polygon points="391.3,812.9 392.0,804.1 393.5,794.4 395.7,795.2 396.4,804.8 398.7,807.0 398.7,812.9" fill="#000"/>
<line x1="1470.7" y1="781.0" x2="1470.7" y2="815.0" stroke="#333" stroke-width="2"/>
<line x1="1470.7" y1="823.0" x2="1470.7" y2="1026.3" stroke="#333" stroke-width="2"/>
<line x1="133.4" y1="781.0" x2="1471.7" y2="781.0" stroke="#888" stroke-width="2"/>
<line x1="133.4" y1="1026.3" x2="1471.7" y2="1026.3" stroke="#111" stroke-width="2"/>
<line x1="134.4" y1="1026.3" x2="134.4" y2="1032.8" stroke="#222" stroke-width="2"/>
<line x1="177.5" y1="1026.3" x2="177.5" y2="1029.8" stroke="#222" stroke-width="2"/>
<line x1="220.6" y1="1026.3" x2="220.6" y2="1029.8" stroke="#222" stroke-width="2"/>
<line x1="263.7" y1="1026.3" x2="263.7" y2="1029.8" stroke="#222" stroke-width="2"/>
<line x1="306.8" y1="1026.3" x2="306.8" y2="1029.8" stroke="#222" stroke-width="2"/>
<line x1="349.9" y1="1026.3" x2="349.9" y2="1032.8" stroke="#222" stroke-width="2"/>
<line x1="393.0" y1="1026.3" x2="393.0" y2="1029.8" stroke="#222" stroke-width="2"/>
<line x1="436.1" y1="1026.3" x2="436.1" y2="1029.8" stroke="#222" stroke-width="2"/>
<line x1="479.3" y1="1026.3" x2="479.3" y2="1029.8" stroke="#222" stroke-width="2"/>
<line x1="522.4" y1="1026.3" x2="522.4" y2="1029.8" stroke="#222" stroke-width="2"/>
<line x1="565.5" y1="1026.3" x2="565.5" y2="1032.8" stroke="#222" stroke-width="2"/>
<line x1="608.6" y1="1026.3" x2="608.6" y2="1029.8" stroke="#222" stroke-width="2"/>
<line x1="651.7" y1="1026.3" x2="651.7" y2="1029.8" stroke="#222" stroke-width="2"/>
<line x1="694.8" y1="1026.3" x2="694.8" y2="1029.8" stroke="#222" stroke-width="2"/>
<line x1="737.9" y1="1026.3" x2="737.9" y2="1029.8" stroke="#222" stroke-width="2"/>
<line x1="781.0" y1="1026.3" x2="781.0" y2="1032.8" stroke="#222" stroke-width="2"/>
<line x1="824.1" y1="1026.3" x2="824.1" y2="1029.8" stroke="#222" stroke-width="2"/>
<line x1="867.2" y1="1026.3" x2="867.2" y2="1029.8" stroke="#222" stroke-width="2"/>
<line x1="910.3" y1="1026.3" x2="910.3" y2="1029.8" stroke="#222" stroke-width="2"/>
<line x1="953.4" y1="1026.3" x2="953.4" y2="1029.8" stroke="#222" stroke-width="2"/>
<line x1="996.5" y1="1026.3" x2="996.5" y2="1032.8" stroke="#222" stroke-width="2"/>
<line x1="1039.6" y1="1026.3" x2="1039.6" y2="1029.8" stroke="#222" stroke-width="2"/>
<line x1="1082.7" y1="1026.3" x2="1082.7" y2="1029.8" stroke="#222" stroke-width="2"/>
<line x1="1125.8" y1="1026.3" x2="1125.8" y2="1029.8" stroke="#222" stroke-width="2"/>
<line x1="1169.0" y1="1026.3" x2="1169.0" y2="1029.8" stroke="#222" stroke-width="2"/>
<line x1="1212.1" y1="1026.3" x2="1212.1" y2="1032.8" stroke="#222" stroke-width="2"/>
<line x1="1255.2" y1="1026.3" x2="1255.2" y2="1029.8" stroke="#222" stroke-width="2"/>
<line x1="1298.3" y1="1026.3" x2="1298.3" y2="1029.8" stroke="#222" stroke-width="2"/>
<line x1="1341.4" y1="1026.3" x2="1341.4" y2="1029.8" stroke="#222" stroke-width="2"/>
<line x1="1384.5" y1="1026.3" x2="1384.5" y2="1029.8" stroke="#222" stroke-width="2"/>
<line x1="1427.6" y1="1026.3" x2="1427.6" y2="1032.8" stroke="#222" stroke-width="2"/>
<line x1="1470.7" y1="1026.3" x2="1470.7" y2="1029.8" stroke="#222" stroke-width="2"/>
<text x="134.4" y="1079.5" font-size="27" text-anchor="middle" font-weight="normal" fill="#000" >1</text>
<text x="349.9" y="1079.5" font-size="27" text-anchor="middle" font-weight="normal" fill="#000" >6</text>
<text x="565.5" y="1079.5" font-size="27" text-anchor="middle" font-weight="normal" fill="#000" >11</text>
<text x="781.0" y="1079.5" font-size="27" text-anchor="middle" font-weight="normal" fill="#000" >16</text>
<text x="996.5" y="1079.5" font-size="27" text-anchor="middle" font-weight="normal" fill="#000" >21</text>
<text x="1212.1" y="1079.5" font-size="27" text-anchor="middle" font-weight="normal" fill="#000" >26</text>
<text x="1427.6" y="1079.5" font-size="27" text-anchor="middle" font-weight="normal" fill="#000" >31</text>
<text x="778.6" y="1114.0" font-size="27" text-anchor="middle" font-weight="normal" fill="#000" >May 2016</text>
<line x1="126.4" y1="1026.3" x2="134.4" y2="1026.3" stroke="#222" stroke-width="2"/>
<line x1="126.4" y1="975.6" x2="134.4" y2="975.6" stroke="#222" stroke-width="2"/>
<line x1="126.4" y1="925.9" x2="134.4" y2="925.9" stroke="#222" stroke-width="2"/>
<line x1="126.4" y1="874.5" x2="134.4" y2="874.5" stroke="#222" stroke-width="2"/>
<line x1="126.4" y1="797.1" x2="134.4" y2="797.1" stroke="#222" stroke-width="2"/>
<text x="109.0" y="1034.8" font-size="27" text-anchor="end" font-weight="normal" fill="#000" >0</text>
<text x="109.0" y="983.4" font-size="27" text-anchor="end" font-weight="normal" fill="#000" >50</text>
<text x="109.0" y="933.5" font-size="27" text-anchor="end" font-weight="normal" fill="#000" >100</text>
<text x="109.0" y="882.2" font-size="27" text-anchor="end" font-weight="normal" fill="#000" >150</text>
<text x="109.0" y="842.5" font-size="27" text-anchor="end" font-weight="normal" fill="#000" >200</text>
<text x="109.0" y="806.2" font-size="27" text-anchor="end" font-weight="normal" fill="#000" >400</text>
<line x1="121.4" y1="825.5" x2="146.4" y2="799.5" stroke="#333" stroke-width="1.3"/>
<line x1="121.4" y1="835.5" x2="146.4" y2="809.5" stroke="#333" stroke-width="1.3"/>
<line x1="1457.7" y1="825.5" x2="1482.7" y2="799.5" stroke="#333" stroke-width="1.3"/>
<line x1="1457.7" y1="835.5" x2="1482.7" y2="809.5" stroke="#333" stroke-width="1.3"/>
<text transform="translate(38.7,971.5) rotate(-90)" font-size="27">PM<tspan font-size="16" dy="9.5">10</tspan><tspan dy="-9.5"> (&#181;g m</tspan><tspan font-size="15" dy="-11.6">-3</tspan><tspan dy="11.6">)</tspan></text>
<line x1="132.5" y1="1238.3" x2="653.8" y2="1238.3" stroke="#111" stroke-width="2"/>
<line x1="653.8" y1="1238.3" x2="653.8" y2="1757.4" stroke="#333" stroke-width="1.5"/>
<line x1="146.4" y1="1375.4" x2="146.4" y2="1439.4" stroke="#8a8a8a" stroke-width="1.5"/>
<line x1="133.9" y1="1375.4" x2="158.9" y2="1375.4" stroke="#8a8a8a" stroke-width="1.5"/>
<line x1="146.4" y1="1541.9" x2="146.4" y2="1611.1" stroke="#8a8a8a" stroke-width="1.5"/>
<line x1="133.9" y1="1611.1" x2="158.9" y2="1611.1" stroke="#8a8a8a" stroke-width="1.5"/>
<line x1="167.8" y1="1347.3" x2="167.8" y2="1421.2" stroke="#1a1a1a" stroke-width="2.0"/>
<line x1="155.3" y1="1347.3" x2="180.3" y2="1347.3" stroke="#1a1a1a" stroke-width="2.0"/>
<line x1="167.8" y1="1512.1" x2="167.8" y2="1562.7" stroke="#1a1a1a" stroke-width="2.0"/>
<line x1="155.3" y1="1562.7" x2="180.3" y2="1562.7" stroke="#1a1a1a" stroke-width="2.0"/>
<line x1="189.3" y1="1356.4" x2="189.3" y2="1421.2" stroke="#1a1a1a" stroke-width="2.0"/>
<line x1="176.8" y1="1356.4" x2="201.8" y2="1356.4" stroke="#1a1a1a" stroke-width="2.0"/>
<line x1="189.3" y1="1512.1" x2="189.3" y2="1567.0" stroke="#1a1a1a" stroke-width="2.0"/>
<line x1="176.8" y1="1567.0" x2="201.8" y2="1567.0" stroke="#1a1a1a" stroke-width="2.0"/>
<line x1="210.7" y1="1368.5" x2="210.7" y2="1421.2" stroke="#1a1a1a" stroke-width="2.0"/>
<line x1="198.2" y1="1368.5" x2="223.2" y2="1368.5" stroke="#1a1a1a" stroke-width="2.0"/>
<line x1="210.7" y1="1512.1" x2="210.7" y2="1585.6" stroke="#1a1a1a" stroke-width="2.0"/>
<line x1="198.2" y1="1585.6" x2="223.2" y2="1585.6" stroke="#1a1a1a" stroke-width="2.0"/>
<line x1="232.1" y1="1356.4" x2="232.1" y2="1416.9" stroke="#1a1a1a" stroke-width="2.0"/>
<line x1="219.6" y1="1356.4" x2="244.6" y2="1356.4" stroke="#1a1a1a" stroke-width="2.0"/>
<line x1="232.1" y1="1519.9" x2="232.1" y2="1593.0" stroke="#1a1a1a" stroke-width="2.0"/>
<line x1="219.6" y1="1593.0" x2="244.6" y2="1593.0" stroke="#1a1a1a" stroke-width="2.0"/>
<line x1="253.6" y1="1364.2" x2="253.6" y2="1421.2" stroke="#1a1a1a" stroke-width="2.0"/>
<line x1="241.1" y1="1364.2" x2="266.1" y2="1364.2" stroke="#1a1a1a" stroke-width="2.0"/>
<line x1="253.6" y1="1516.4" x2="253.6" y2="1580.8" stroke="#1a1a1a" stroke-width="2.0"/>
<line x1="241.1" y1="1580.8" x2="266.1" y2="1580.8" stroke="#1a1a1a" stroke-width="2.0"/>
<line x1="275.0" y1="1351.6" x2="275.0" y2="1412.2" stroke="#8a8a8a" stroke-width="1.5"/>
<line x1="262.5" y1="1351.6" x2="287.5" y2="1351.6" stroke="#8a8a8a" stroke-width="1.5"/>
<line x1="275.0" y1="1507.7" x2="275.0" y2="1567.0" stroke="#1a1a1a" stroke-width="2.0"/>
<line x1="262.5" y1="1567.0" x2="287.5" y2="1567.0" stroke="#1a1a1a" stroke-width="2.0"/>
<line x1="296.4" y1="1351.6" x2="296.4" y2="1408.7" stroke="#1a1a1a" stroke-width="2.0"/>
<line x1="283.9" y1="1351.6" x2="308.9" y2="1351.6" stroke="#1a1a1a" stroke-width="2.0"/>
<line x1="296.4" y1="1496.9" x2="296.4" y2="1554.9" stroke="#1a1a1a" stroke-width="2.0"/>
<line x1="283.9" y1="1554.9" x2="308.9" y2="1554.9" stroke="#1a1a1a" stroke-width="2.0"/>
<line x1="317.8" y1="1333.5" x2="317.8" y2="1391.4" stroke="#1a1a1a" stroke-width="2.0"/>
<line x1="305.3" y1="1333.5" x2="330.3" y2="1333.5" stroke="#1a1a1a" stroke-width="2.0"/>
<line x1="317.8" y1="1484.8" x2="317.8" y2="1532.4" stroke="#1a1a1a" stroke-width="2.0"/>
<line x1="305.3" y1="1532.4" x2="330.3" y2="1532.4" stroke="#1a1a1a" stroke-width="2.0"/>
<line x1="339.3" y1="1343.0" x2="339.3" y2="1399.2" stroke="#8a8a8a" stroke-width="1.5"/>
<line x1="326.8" y1="1343.0" x2="351.8" y2="1343.0" stroke="#8a8a8a" stroke-width="1.5"/>
<line x1="339.3" y1="1493.5" x2="339.3" y2="1571.3" stroke="#8a8a8a" stroke-width="1.5"/>
<line x1="326.8" y1="1571.3" x2="351.8" y2="1571.3" stroke="#8a8a8a" stroke-width="1.5"/>
<line x1="360.7" y1="1364.2" x2="360.7" y2="1416.1" stroke="#8a8a8a" stroke-width="1.5"/>
<line x1="348.2" y1="1364.2" x2="373.2" y2="1364.2" stroke="#8a8a8a" stroke-width="1.5"/>
<line x1="360.7" y1="1493.5" x2="360.7" y2="1550.6" stroke="#8a8a8a" stroke-width="1.5"/>
<line x1="348.2" y1="1550.6" x2="373.2" y2="1550.6" stroke="#8a8a8a" stroke-width="1.5"/>
<line x1="382.1" y1="1391.4" x2="382.1" y2="1429.0" stroke="#8a8a8a" stroke-width="1.5"/>
<line x1="369.6" y1="1391.4" x2="394.6" y2="1391.4" stroke="#8a8a8a" stroke-width="1.5"/>
<line x1="382.1" y1="1512.1" x2="382.1" y2="1550.6" stroke="#8a8a8a" stroke-width="1.5"/>
<line x1="369.6" y1="1550.6" x2="394.6" y2="1550.6" stroke="#8a8a8a" stroke-width="1.5"/>
<line x1="403.6" y1="1402.2" x2="403.6" y2="1451.5" stroke="#8a8a8a" stroke-width="1.5"/>
<line x1="391.1" y1="1402.2" x2="416.1" y2="1402.2" stroke="#8a8a8a" stroke-width="1.5"/>
<line x1="403.6" y1="1532.4" x2="403.6" y2="1576.1" stroke="#8a8a8a" stroke-width="1.5"/>
<line x1="391.1" y1="1576.1" x2="416.1" y2="1576.1" stroke="#8a8a8a" stroke-width="1.5"/>
<line x1="425.0" y1="1372.8" x2="425.0" y2="1424.7" stroke="#1a1a1a" stroke-width="2.0"/>
<line x1="412.5" y1="1372.8" x2="437.5" y2="1372.8" stroke="#1a1a1a" stroke-width="2.0"/>
<line x1="425.0" y1="1519.9" x2="425.0" y2="1554.9" stroke="#1a1a1a" stroke-width="2.0"/>
<line x1="412.5" y1="1554.9" x2="437.5" y2="1554.9" stroke="#1a1a1a" stroke-width="2.0"/>
<line x1="446.4" y1="1337.8" x2="446.4" y2="1386.6" stroke="#8a8a8a" stroke-width="1.5"/>
<line x1="433.9" y1="1337.8" x2="458.9" y2="1337.8" stroke="#8a8a8a" stroke-width="1.5"/>
<line x1="446.4" y1="1515.1" x2="446.4" y2="1554.9" stroke="#8a8a8a" stroke-width="1.5"/>
<line x1="433.9" y1="1554.9" x2="458.9" y2="1554.9" stroke="#8a8a8a" stroke-width="1.5"/>
<line x1="467.9" y1="1308.8" x2="467.9" y2="1378.4" stroke="#8a8a8a" stroke-width="1.5"/>
<line x1="455.4" y1="1308.8" x2="480.4" y2="1308.8" stroke="#8a8a8a" stroke-width="1.5"/>
<line x1="467.9" y1="1516.4" x2="467.9" y2="1554.9" stroke="#8a8a8a" stroke-width="1.5"/>
<line x1="455.4" y1="1554.9" x2="480.4" y2="1554.9" stroke="#8a8a8a" stroke-width="1.5"/>
<line x1="489.3" y1="1325.2" x2="489.3" y2="1386.6" stroke="#1a1a1a" stroke-width="2.0"/>
<line x1="476.8" y1="1325.2" x2="501.8" y2="1325.2" stroke="#1a1a1a" stroke-width="2.0"/>
<line x1="489.3" y1="1503.4" x2="489.3" y2="1546.2" stroke="#1a1a1a" stroke-width="2.0"/>
<line x1="476.8" y1="1546.2" x2="501.8" y2="1546.2" stroke="#1a1a1a" stroke-width="2.0"/>
<line x1="510.7" y1="1355.9" x2="510.7" y2="1402.2" stroke="#1a1a1a" stroke-width="2.0"/>
<line x1="498.2" y1="1355.9" x2="523.2" y2="1355.9" stroke="#1a1a1a" stroke-width="2.0"/>
<line x1="510.7" y1="1494.8" x2="510.7" y2="1546.2" stroke="#1a1a1a" stroke-width="2.0"/>
<line x1="498.2" y1="1546.2" x2="523.2" y2="1546.2" stroke="#1a1a1a" stroke-width="2.0"/>
<line x1="532.1" y1="1364.2" x2="532.1" y2="1412.2" stroke="#1a1a1a" stroke-width="2.0"/>
<line x1="519.6" y1="1364.2" x2="544.6" y2="1364.2" stroke="#1a1a1a" stroke-width="2.0"/>
<line x1="532.1" y1="1502.1" x2="532.1" y2="1538.5" stroke="#1a1a1a" stroke-width="2.0"/>
<line x1="519.6" y1="1538.5" x2="544.6" y2="1538.5" stroke="#1a1a1a" stroke-width="2.0"/>
<line x1="553.6" y1="1360.3" x2="553.6" y2="1424.7" stroke="#8a8a8a" stroke-width="1.5"/>
<line x1="541.1" y1="1360.3" x2="566.1" y2="1360.3" stroke="#8a8a8a" stroke-width="1.5"/>
<line x1="553.6" y1="1519.9" x2="553.6" y2="1562.7" stroke="#8a8a8a" stroke-width="1.5"/>
<line x1="541.1" y1="1562.7" x2="566.1" y2="1562.7" stroke="#8a8a8a" stroke-width="1.5"/>
<line x1="575.0" y1="1368.5" x2="575.0" y2="1419.5" stroke="#8a8a8a" stroke-width="1.5"/>
<line x1="562.5" y1="1368.5" x2="587.5" y2="1368.5" stroke="#8a8a8a" stroke-width="1.5"/>
<line x1="575.0" y1="1503.4" x2="575.0" y2="1546.2" stroke="#1a1a1a" stroke-width="2.0"/>
<line x1="562.5" y1="1546.2" x2="587.5" y2="1546.2" stroke="#1a1a1a" stroke-width="2.0"/>
<line x1="596.4" y1="1378.0" x2="596.4" y2="1433.4" stroke="#1a1a1a" stroke-width="2.0"/>
<line x1="583.9" y1="1378.0" x2="608.9" y2="1378.0" stroke="#1a1a1a" stroke-width="2.0"/>
<line x1="596.4" y1="1512.1" x2="596.4" y2="1546.2" stroke="#1a1a1a" stroke-width="2.0"/>
<line x1="583.9" y1="1546.2" x2="608.9" y2="1546.2" stroke="#1a1a1a" stroke-width="2.0"/>
<line x1="617.9" y1="1344.7" x2="617.9" y2="1424.7" stroke="#1a1a1a" stroke-width="2.0"/>
<line x1="605.4" y1="1344.7" x2="630.4" y2="1344.7" stroke="#1a1a1a" stroke-width="2.0"/>
<line x1="617.9" y1="1512.1" x2="617.9" y2="1561.4" stroke="#1a1a1a" stroke-width="2.0"/>
<line x1="605.4" y1="1561.4" x2="630.4" y2="1561.4" stroke="#1a1a1a" stroke-width="2.0"/>
<line x1="639.3" y1="1372.8" x2="639.3" y2="1424.7" stroke="#1a1a1a" stroke-width="2.0"/>
<line x1="626.8" y1="1372.8" x2="651.8" y2="1372.8" stroke="#1a1a1a" stroke-width="2.0"/>
<line x1="639.3" y1="1516.4" x2="639.3" y2="1580.8" stroke="#1a1a1a" stroke-width="2.0"/>
<line x1="626.8" y1="1580.8" x2="651.8" y2="1580.8" stroke="#1a1a1a" stroke-width="2.0"/>
<rect x="135.8" y="1439.4" width="21.2" height="102.5" fill="#c0c0c0" stroke="#8a8a8a" stroke-width="1.5"/>
<line x1="135.8" y1="1481.8" x2="157.0" y2="1481.8" stroke="#8a8a8a" stroke-width="1.5"/>
<rect x="157.2" y="1421.2" width="21.2" height="90.8" fill="#c0c0c0" stroke="#1a1a1a" stroke-width="2.0"/>
<line x1="157.2" y1="1468.0" x2="178.4" y2="1468.0" stroke="#1a1a1a" stroke-width="2.0"/>
<rect x="178.7" y="1421.2" width="21.2" height="90.8" fill="#c0c0c0" stroke="#1a1a1a" stroke-width="2.0"/>
<line x1="178.7" y1="1468.0" x2="199.9" y2="1468.0" stroke="#1a1a1a" stroke-width="2.0"/>
<rect x="200.1" y="1421.2" width="21.2" height="90.8" fill="#c0c0c0" stroke="#1a1a1a" stroke-width="2.0"/>
<line x1="200.1" y1="1468.0" x2="221.3" y2="1468.0" stroke="#1a1a1a" stroke-width="2.0"/>
<rect x="221.5" y="1416.9" width="21.2" height="102.9" fill="#c0c0c0" stroke="#1a1a1a" stroke-width="2.0"/>
<line x1="221.5" y1="1468.0" x2="242.7" y2="1468.0" stroke="#1a1a1a" stroke-width="2.0"/>
<rect x="243.0" y="1421.2" width="21.2" height="95.2" fill="#c0c0c0" stroke="#1a1a1a" stroke-width="2.0"/>
<line x1="243.0" y1="1468.0" x2="264.2" y2="1468.0" stroke="#1a1a1a" stroke-width="2.0"/>
<rect x="264.4" y="1412.2" width="21.2" height="95.6" fill="#c0c0c0" stroke="#1a1a1a" stroke-width="2.0"/>
<line x1="264.4" y1="1459.7" x2="285.6" y2="1459.7" stroke="#1a1a1a" stroke-width="2.0"/>
<rect x="285.8" y="1408.7" width="21.2" height="88.2" fill="#c0c0c0" stroke="#1a1a1a" stroke-width="2.0"/>
<line x1="285.8" y1="1451.5" x2="307.0" y2="1451.5" stroke="#1a1a1a" stroke-width="2.0"/>
<rect x="307.2" y="1391.4" width="21.2" height="93.4" fill="#c0c0c0" stroke="#1a1a1a" stroke-width="2.0"/>
<line x1="307.2" y1="1442.4" x2="328.4" y2="1442.4" stroke="#1a1a1a" stroke-width="2.0"/>
<rect x="328.7" y="1399.2" width="21.2" height="94.3" fill="#c0c0c0" stroke="#1a1a1a" stroke-width="2.0"/>
<line x1="328.7" y1="1447.2" x2="349.9" y2="1447.2" stroke="#8a8a8a" stroke-width="1.5"/>
<rect x="350.1" y="1416.1" width="21.2" height="77.4" fill="#c0c0c0" stroke="#8a8a8a" stroke-width="1.5"/>
<line x1="350.1" y1="1459.7" x2="371.3" y2="1459.7" stroke="#1a1a1a" stroke-width="2.0"/>
<rect x="371.5" y="1429.0" width="21.2" height="83.0" fill="#c0c0c0" stroke="#1a1a1a" stroke-width="2.0"/>
<line x1="371.5" y1="1473.1" x2="392.7" y2="1473.1" stroke="#1a1a1a" stroke-width="2.0"/>
<rect x="393.0" y="1451.5" width="21.2" height="80.9" fill="#c0c0c0" stroke="#1a1a1a" stroke-width="2.0"/>
<line x1="393.0" y1="1489.1" x2="414.2" y2="1489.1" stroke="#8a8a8a" stroke-width="1.5"/>
<rect x="414.4" y="1424.7" width="21.2" height="95.1" fill="#c0c0c0" stroke="#1a1a1a" stroke-width="2.0"/>
<line x1="414.4" y1="1473.1" x2="435.6" y2="1473.1" stroke="#1a1a1a" stroke-width="2.0"/>
<rect x="435.8" y="1386.6" width="21.2" height="128.5" fill="#c0c0c0" stroke="#1a1a1a" stroke-width="2.0"/>
<line x1="435.8" y1="1447.2" x2="457.0" y2="1447.2" stroke="#8a8a8a" stroke-width="1.5"/>
<rect x="457.2" y="1378.4" width="21.2" height="138.0" fill="#c0c0c0" stroke="#1a1a1a" stroke-width="2.0"/>
<line x1="457.2" y1="1459.7" x2="478.5" y2="1459.7" stroke="#1a1a1a" stroke-width="2.0"/>
<rect x="478.7" y="1386.6" width="21.2" height="116.8" fill="#c0c0c0" stroke="#1a1a1a" stroke-width="2.0"/>
<line x1="478.7" y1="1455.0" x2="499.9" y2="1455.0" stroke="#1a1a1a" stroke-width="2.0"/>
<rect x="500.1" y="1402.2" width="21.2" height="92.6" fill="#c0c0c0" stroke="#1a1a1a" stroke-width="2.0"/>
<line x1="500.1" y1="1451.5" x2="521.3" y2="1451.5" stroke="#1a1a1a" stroke-width="2.0"/>
<rect x="521.5" y="1412.2" width="21.2" height="90.0" fill="#c0c0c0" stroke="#1a1a1a" stroke-width="2.0"/>
<line x1="521.5" y1="1455.0" x2="542.7" y2="1455.0" stroke="#8a8a8a" stroke-width="1.5"/>
<rect x="543.0" y="1424.7" width="21.2" height="95.1" fill="#c0c0c0" stroke="#1a1a1a" stroke-width="2.0"/>
<line x1="543.0" y1="1477.5" x2="564.2" y2="1477.5" stroke="#8a8a8a" stroke-width="1.5"/>
<rect x="564.4" y="1419.5" width="21.2" height="83.9" fill="#c0c0c0" stroke="#8a8a8a" stroke-width="1.5"/>
<line x1="564.4" y1="1459.7" x2="585.6" y2="1459.7" stroke="#1a1a1a" stroke-width="2.0"/>
<rect x="585.8" y="1433.4" width="21.2" height="78.7" fill="#c0c0c0" stroke="#8a8a8a" stroke-width="1.5"/>
<line x1="585.8" y1="1477.5" x2="607.0" y2="1477.5" stroke="#8a8a8a" stroke-width="1.5"/>
<rect x="607.3" y="1424.7" width="21.2" height="87.4" fill="#c0c0c0" stroke="#1a1a1a" stroke-width="2.0"/>
<line x1="607.3" y1="1473.1" x2="628.5" y2="1473.1" stroke="#1a1a1a" stroke-width="2.0"/>
<rect x="628.7" y="1424.7" width="21.2" height="91.7" fill="#c0c0c0" stroke="#1a1a1a" stroke-width="2.0"/>
<line x1="628.7" y1="1473.1" x2="649.9" y2="1473.1" stroke="#1a1a1a" stroke-width="2.0"/>
<line x1="132.5" y1="1497.8" x2="653.8" y2="1497.8" stroke="#5b5be6" stroke-width="2.2"/>
<circle cx="146.4" cy="1327.8" r="7.6" fill="#ff0000" stroke="#222" stroke-width="1.3"/>
<circle cx="146.4" cy="1662.6" r="7.6" fill="#ff0000" stroke="#222" stroke-width="1.3"/>
<circle cx="167.8" cy="1290.2" r="7.6" fill="#ff0000" stroke="#222" stroke-width="1.3"/>
<circle cx="167.8" cy="1605.5" r="7.6" fill="#ff0000" stroke="#222" stroke-width="1.3"/>
<circle cx="189.3" cy="1315.7" r="7.6" fill="#ff0000" stroke="#222" stroke-width="1.3"/>
<circle cx="189.3" cy="1625.8" r="7.6" fill="#ff0000" stroke="#222" stroke-width="1.3"/>
<circle cx="210.7" cy="1318.3" r="7.6" fill="#ff0000" stroke="#222" stroke-width="1.3"/>
<circle cx="210.7" cy="1635.8" r="7.6" fill="#ff0000" stroke="#222" stroke-width="1.3"/>
<circle cx="232.1" cy="1311.8" r="7.6" fill="#ff0000" stroke="#222" stroke-width="1.3"/>
<circle cx="232.1" cy="1649.6" r="7.6" fill="#ff0000" stroke="#222" stroke-width="1.3"/>
<circle cx="253.6" cy="1311.8" r="7.6" fill="#ff0000" stroke="#222" stroke-width="1.3"/>
<circle cx="253.6" cy="1641.0" r="7.6" fill="#ff0000" stroke="#222" stroke-width="1.3"/>
<circle cx="275.0" cy="1315.7" r="7.6" fill="#ff0000" stroke="#222" stroke-width="1.3"/>
<circle cx="275.0" cy="1635.8" r="7.6" fill="#ff0000" stroke="#222" stroke-width="1.3"/>
<circle cx="296.4" cy="1327.4" r="7.6" fill="#ff0000" stroke="#222" stroke-width="1.3"/>
<circle cx="296.4" cy="1605.5" r="7.6" fill="#ff0000" stroke="#222" stroke-width="1.3"/>
<circle cx="317.8" cy="1294.5" r="7.6" fill="#ff0000" stroke="#222" stroke-width="1.3"/>
<circle cx="317.8" cy="1573.9" r="7.6" fill="#ff0000" stroke="#222" stroke-width="1.3"/>
<circle cx="339.3" cy="1311.8" r="7.6" fill="#ff0000" stroke="#222" stroke-width="1.3"/>
<circle cx="339.3" cy="1609.8" r="7.6" fill="#ff0000" stroke="#222" stroke-width="1.3"/>
<circle cx="360.7" cy="1311.8" r="7.6" fill="#ff0000" stroke="#222" stroke-width="1.3"/>
<circle cx="360.7" cy="1575.2" r="7.6" fill="#ff0000" stroke="#222" stroke-width="1.3"/>
<circle cx="382.1" cy="1342.1" r="7.6" fill="#ff0000" stroke="#222" stroke-width="1.3"/>
<circle cx="382.1" cy="1575.2" r="7.6" fill="#ff0000" stroke="#222" stroke-width="1.3"/>
<circle cx="403.6" cy="1368.5" r="7.6" fill="#ff0000" stroke="#222" stroke-width="1.3"/>
<circle cx="403.6" cy="1609.8" r="7.6" fill="#ff0000" stroke="#222" stroke-width="1.3"/>
<circle cx="425.0" cy="1311.8" r="7.6" fill="#ff0000" stroke="#222" stroke-width="1.3"/>
<circle cx="425.0" cy="1586.0" r="7.6" fill="#ff0000" stroke="#222" stroke-width="1.3"/>
<circle cx="446.4" cy="1283.7" r="7.6" fill="#ff0000" stroke="#222" stroke-width="1.3"/>
<circle cx="446.4" cy="1581.7" r="7.6" fill="#ff0000" stroke="#222" stroke-width="1.3"/>
<circle cx="467.9" cy="1264.2" r="7.6" fill="#ff0000" stroke="#222" stroke-width="1.3"/>
<circle cx="467.9" cy="1575.2" r="7.6" fill="#ff0000" stroke="#222" stroke-width="1.3"/>
<circle cx="489.3" cy="1290.2" r="7.6" fill="#ff0000" stroke="#222" stroke-width="1.3"/>
<circle cx="489.3" cy="1575.2" r="7.6" fill="#ff0000" stroke="#222" stroke-width="1.3"/>
<circle cx="510.7" cy="1312.7" r="7.6" fill="#ff0000" stroke="#222" stroke-width="1.3"/>
<circle cx="510.7" cy="1579.5" r="7.6" fill="#ff0000" stroke="#222" stroke-width="1.3"/>
<circle cx="532.1" cy="1337.8" r="7.6" fill="#ff0000" stroke="#222" stroke-width="1.3"/>
<circle cx="532.1" cy="1561.8" r="7.6" fill="#ff0000" stroke="#222" stroke-width="1.3"/>
<circle cx="553.6" cy="1321.3" r="7.6" fill="#ff0000" stroke="#222" stroke-width="1.3"/>
<circle cx="553.6" cy="1592.5" r="7.6" fill="#ff0000" stroke="#222" stroke-width="1.3"/>
<circle cx="575.0" cy="1330.0" r="7.6" fill="#ff0000" stroke="#222" stroke-width="1.3"/>
<circle cx="575.0" cy="1578.7" r="7.6" fill="#ff0000" stroke="#222" stroke-width="1.3"/>
<circle cx="596.4" cy="1337.8" r="7.6" fill="#ff0000" stroke="#222" stroke-width="1.3"/>
<circle cx="596.4" cy="1578.7" r="7.6" fill="#ff0000" stroke="#222" stroke-width="1.3"/>
<circle cx="617.9" cy="1307.5" r="7.6" fill="#ff0000" stroke="#222" stroke-width="1.3"/>
<circle cx="617.9" cy="1623.7" r="7.6" fill="#ff0000" stroke="#222" stroke-width="1.3"/>
<circle cx="639.3" cy="1330.0" r="7.6" fill="#ff0000" stroke="#222" stroke-width="1.3"/>
<circle cx="639.3" cy="1678.6" r="7.6" fill="#ff0000" stroke="#222" stroke-width="1.3"/>
<line x1="132.5" y1="1238.3" x2="132.5" y2="1757.4" stroke="#777" stroke-width="1.5"/>
<line x1="128.5" y1="1757.4" x2="653.8" y2="1757.4" stroke="#222" stroke-width="2"/>
<line x1="127.5" y1="1757.3" x2="132.5" y2="1757.3" stroke="#444" stroke-width="1.8"/>
<text x="109.2" y="1766.1" font-size="27" text-anchor="end" font-weight="normal" fill="#000" >-60</text>
<line x1="127.5" y1="1670.8" x2="132.5" y2="1670.8" stroke="#444" stroke-width="1.8"/>
<text x="109.2" y="1679.6" font-size="27" text-anchor="end" font-weight="normal" fill="#000" >-40</text>
<line x1="127.5" y1="1584.3" x2="132.5" y2="1584.3" stroke="#444" stroke-width="1.8"/>
<text x="109.2" y="1593.1" font-size="27" text-anchor="end" font-weight="normal" fill="#000" >-20</text>
<line x1="127.5" y1="1497.8" x2="132.5" y2="1497.8" stroke="#444" stroke-width="1.8"/>
<text x="109.2" y="1506.6" font-size="27" text-anchor="end" font-weight="normal" fill="#000" >0</text>
<line x1="127.5" y1="1411.3" x2="132.5" y2="1411.3" stroke="#444" stroke-width="1.8"/>
<text x="109.2" y="1420.1" font-size="27" text-anchor="end" font-weight="normal" fill="#000" >20</text>
<line x1="127.5" y1="1324.8" x2="132.5" y2="1324.8" stroke="#444" stroke-width="1.8"/>
<text x="109.2" y="1333.6" font-size="27" text-anchor="end" font-weight="normal" fill="#000" >40</text>
<line x1="127.5" y1="1238.3" x2="132.5" y2="1238.3" stroke="#444" stroke-width="1.8"/>
<text x="109.2" y="1247.1" font-size="27" text-anchor="end" font-weight="normal" fill="#000" >60</text>
<line x1="146.4" y1="1757.4" x2="146.4" y2="1763.4" stroke="#444" stroke-width="2"/>
<line x1="167.8" y1="1757.4" x2="167.8" y2="1757.4" stroke="#444" stroke-width="2"/>
<line x1="189.3" y1="1757.4" x2="189.3" y2="1757.4" stroke="#444" stroke-width="2"/>
<line x1="210.7" y1="1757.4" x2="210.7" y2="1763.4" stroke="#444" stroke-width="2"/>
<line x1="232.1" y1="1757.4" x2="232.1" y2="1757.4" stroke="#444" stroke-width="2"/>
<line x1="253.6" y1="1757.4" x2="253.6" y2="1757.4" stroke="#444" stroke-width="2"/>
<line x1="275.0" y1="1757.4" x2="275.0" y2="1763.4" stroke="#444" stroke-width="2"/>
<line x1="296.4" y1="1757.4" x2="296.4" y2="1757.4" stroke="#444" stroke-width="2"/>
<line x1="317.8" y1="1757.4" x2="317.8" y2="1757.4" stroke="#444" stroke-width="2"/>
<line x1="339.3" y1="1757.4" x2="339.3" y2="1763.4" stroke="#444" stroke-width="2"/>
<line x1="360.7" y1="1757.4" x2="360.7" y2="1757.4" stroke="#444" stroke-width="2"/>
<line x1="382.1" y1="1757.4" x2="382.1" y2="1757.4" stroke="#444" stroke-width="2"/>
<line x1="403.6" y1="1757.4" x2="403.6" y2="1763.4" stroke="#444" stroke-width="2"/>
<line x1="425.0" y1="1757.4" x2="425.0" y2="1757.4" stroke="#444" stroke-width="2"/>
<line x1="446.4" y1="1757.4" x2="446.4" y2="1757.4" stroke="#444" stroke-width="2"/>
<line x1="467.9" y1="1757.4" x2="467.9" y2="1763.4" stroke="#444" stroke-width="2"/>
<line x1="489.3" y1="1757.4" x2="489.3" y2="1757.4" stroke="#444" stroke-width="2"/>
<line x1="510.7" y1="1757.4" x2="510.7" y2="1757.4" stroke="#444" stroke-width="2"/>
<line x1="532.1" y1="1757.4" x2="532.1" y2="1763.4" stroke="#444" stroke-width="2"/>
<line x1="553.6" y1="1757.4" x2="553.6" y2="1757.4" stroke="#444" stroke-width="2"/>
<line x1="575.0" y1="1757.4" x2="575.0" y2="1757.4" stroke="#444" stroke-width="2"/>
<line x1="596.4" y1="1757.4" x2="596.4" y2="1763.4" stroke="#444" stroke-width="2"/>
<line x1="617.9" y1="1757.4" x2="617.9" y2="1757.4" stroke="#444" stroke-width="2"/>
<line x1="639.3" y1="1757.4" x2="639.3" y2="1757.4" stroke="#444" stroke-width="2"/>
<text x="146.3" y="1801.5" font-size="27" text-anchor="middle" font-weight="normal" fill="#000" >0</text>
<text x="211.7" y="1801.5" font-size="27" text-anchor="middle" font-weight="normal" fill="#000" >3</text>
<text x="275.5" y="1801.5" font-size="27" text-anchor="middle" font-weight="normal" fill="#000" >6</text>
<text x="340.7" y="1801.5" font-size="27" text-anchor="middle" font-weight="normal" fill="#000" >9</text>
<text x="406.1" y="1801.5" font-size="27" text-anchor="middle" font-weight="normal" fill="#000" >12</text>
<text x="470.3" y="1801.5" font-size="27" text-anchor="middle" font-weight="normal" fill="#000" >15</text>
<text x="534.5" y="1801.5" font-size="27" text-anchor="middle" font-weight="normal" fill="#000" >18</text>
<text x="597.7" y="1801.5" font-size="27" text-anchor="middle" font-weight="normal" fill="#000" >21</text>
<text x="387.0" y="1857.0" font-size="27" text-anchor="middle" font-weight="normal" fill="#000" >Local time</text>
<text x="1.2" y="1192.5" font-size="31" text-anchor="start" font-weight="bold" fill="#000" >(b)</text>
<text x="218" y="1202.5" font-size="27">PM<tspan font-size="16" dy="9.6">10 SFC </tspan><tspan dy="-9.6">- PM</tspan><tspan font-size="16" dy="9.6">10 mountain</tspan></text>
<text transform="translate(38.7,1631.3) rotate(-90)" font-size="27" xml:space="preserve">PM<tspan font-size="17" dy="9.4">10</tspan><tspan dy="-9.4">  difference (&#956; gm</tspan><tspan font-size="16" dy="-11.6">-3</tspan><tspan dy="11.6">)</tspan></text>
<line x1="916.0" y1="1242.6" x2="1424.2" y2="1242.6" stroke="#a8a8a8" stroke-width="2"/>
<line x1="1424.2" y1="1242.6" x2="1424.2" y2="1750.5" stroke="#a8a8a8" stroke-width="2"/>
<rect x="915.0" y="1384.7" width="21.1" height="365.8" fill="#c0c0c0" stroke="#888" stroke-width="1.6"/>
<rect x="936.2" y="1333.9" width="21.1" height="416.6" fill="#c0c0c0" stroke="#111" stroke-width="1.6"/>
<rect x="957.3" y="1394.9" width="21.1" height="355.6" fill="#c0c0c0" stroke="#111" stroke-width="1.6"/>
<rect x="978.5" y="1425.4" width="21.1" height="325.1" fill="#c0c0c0" stroke="#111" stroke-width="1.6"/>
<rect x="999.6" y="1587.9" width="21.1" height="162.6" fill="#c0c0c0" stroke="#111" stroke-width="1.6"/>
<rect x="1020.8" y="1598.1" width="21.1" height="152.4" fill="#c0c0c0" stroke="#111" stroke-width="1.6"/>
<rect x="1041.9" y="1608.3" width="21.1" height="142.2" fill="#c0c0c0" stroke="#111" stroke-width="1.6"/>
<rect x="1063.1" y="1567.6" width="21.1" height="182.9" fill="#c0c0c0" stroke="#111" stroke-width="1.6"/>
<rect x="1084.2" y="1669.2" width="21.1" height="81.3" fill="#c0c0c0" stroke="#888" stroke-width="1.6"/>
<rect x="1105.4" y="1577.8" width="21.1" height="172.7" fill="#c0c0c0" stroke="#111" stroke-width="1.6"/>
<rect x="1126.5" y="1740.3" width="21.1" height="10.2" fill="#c0c0c0" stroke="#888" stroke-width="1.6"/>
<rect x="1147.7" y="1720.0" width="21.1" height="30.5" fill="#c0c0c0" stroke="#111" stroke-width="1.6"/>
<rect x="1168.8" y="1587.9" width="21.1" height="162.6" fill="#c0c0c0" stroke="#111" stroke-width="1.6"/>
<line x1="1190.0" y1="1749.5" x2="1211.1" y2="1749.5" stroke="#111" stroke-width="2"/>
<line x1="1211.1" y1="1749.5" x2="1232.3" y2="1749.5" stroke="#111" stroke-width="2"/>
<line x1="1232.3" y1="1749.5" x2="1253.4" y2="1749.5" stroke="#111" stroke-width="2"/>
<rect x="1253.4" y="1730.2" width="21.1" height="20.3" fill="#c0c0c0" stroke="#111" stroke-width="1.6"/>
<rect x="1274.6" y="1740.3" width="21.1" height="10.2" fill="#c0c0c0" stroke="#888" stroke-width="1.6"/>
<line x1="1295.7" y1="1749.5" x2="1316.9" y2="1749.5" stroke="#111" stroke-width="2"/>
<rect x="1316.9" y="1659.1" width="21.1" height="91.4" fill="#c0c0c0" stroke="#111" stroke-width="1.6"/>
<rect x="1338.0" y="1699.7" width="21.1" height="50.8" fill="#c0c0c0" stroke="#888" stroke-width="1.6"/>
<rect x="1359.2" y="1557.5" width="21.1" height="193.0" fill="#c0c0c0" stroke="#111" stroke-width="1.6"/>
<rect x="1380.3" y="1486.3" width="21.1" height="264.2" fill="#c0c0c0" stroke="#111" stroke-width="1.6"/>
<rect x="1401.5" y="1425.4" width="21.1" height="325.1" fill="#c0c0c0" stroke="#888" stroke-width="1.6"/>
<line x1="916.0" y1="1242.6" x2="916.0" y2="1750.5" stroke="#a8a8a8" stroke-width="2"/>
<line x1="910.0" y1="1750.5" x2="1424.2" y2="1750.5" stroke="#222" stroke-width="2"/>
<line x1="909.0" y1="1750.5" x2="916.0" y2="1750.5" stroke="#999" stroke-width="1.8"/>
<text x="885.3" y="1759.1" font-size="27" text-anchor="end" font-weight="normal" fill="#000" >0</text>
<line x1="909.0" y1="1648.9" x2="916.0" y2="1648.9" stroke="#999" stroke-width="1.8"/>
<text x="885.3" y="1657.5" font-size="27" text-anchor="end" font-weight="normal" fill="#000" >10</text>
<line x1="909.0" y1="1547.3" x2="916.0" y2="1547.3" stroke="#999" stroke-width="1.8"/>
<text x="885.3" y="1555.9" font-size="27" text-anchor="end" font-weight="normal" fill="#000" >20</text>
<line x1="909.0" y1="1445.7" x2="916.0" y2="1445.7" stroke="#999" stroke-width="1.8"/>
<text x="885.3" y="1454.3" font-size="27" text-anchor="end" font-weight="normal" fill="#000" >30</text>
<line x1="909.0" y1="1344.1" x2="916.0" y2="1344.1" stroke="#999" stroke-width="1.8"/>
<text x="885.3" y="1352.7" font-size="27" text-anchor="end" font-weight="normal" fill="#000" >40</text>
<line x1="909.0" y1="1242.5" x2="916.0" y2="1242.5" stroke="#999" stroke-width="1.8"/>
<text x="885.3" y="1251.1" font-size="27" text-anchor="end" font-weight="normal" fill="#000" >50</text>
<line x1="925.6" y1="1750.5" x2="925.6" y2="1756.5" stroke="#444" stroke-width="2"/>
<line x1="946.8" y1="1750.5" x2="946.8" y2="1750.5" stroke="#444" stroke-width="2"/>
<line x1="967.9" y1="1750.5" x2="967.9" y2="1750.5" stroke="#444" stroke-width="2"/>
<line x1="989.1" y1="1750.5" x2="989.1" y2="1756.5" stroke="#444" stroke-width="2"/>
<line x1="1010.2" y1="1750.5" x2="1010.2" y2="1750.5" stroke="#444" stroke-width="2"/>
<line x1="1031.3" y1="1750.5" x2="1031.3" y2="1750.5" stroke="#444" stroke-width="2"/>
<line x1="1052.5" y1="1750.5" x2="1052.5" y2="1756.5" stroke="#444" stroke-width="2"/>
<line x1="1073.7" y1="1750.5" x2="1073.7" y2="1750.5" stroke="#444" stroke-width="2"/>
<line x1="1094.8" y1="1750.5" x2="1094.8" y2="1750.5" stroke="#444" stroke-width="2"/>
<line x1="1116.0" y1="1750.5" x2="1116.0" y2="1756.5" stroke="#444" stroke-width="2"/>
<line x1="1137.1" y1="1750.5" x2="1137.1" y2="1750.5" stroke="#444" stroke-width="2"/>
<line x1="1158.2" y1="1750.5" x2="1158.2" y2="1750.5" stroke="#444" stroke-width="2"/>
<line x1="1179.4" y1="1750.5" x2="1179.4" y2="1756.5" stroke="#444" stroke-width="2"/>
<line x1="1200.5" y1="1750.5" x2="1200.5" y2="1750.5" stroke="#444" stroke-width="2"/>
<line x1="1221.7" y1="1750.5" x2="1221.7" y2="1750.5" stroke="#444" stroke-width="2"/>
<line x1="1242.8" y1="1750.5" x2="1242.8" y2="1756.5" stroke="#444" stroke-width="2"/>
<line x1="1264.0" y1="1750.5" x2="1264.0" y2="1750.5" stroke="#444" stroke-width="2"/>
<line x1="1285.2" y1="1750.5" x2="1285.2" y2="1750.5" stroke="#444" stroke-width="2"/>
<line x1="1306.3" y1="1750.5" x2="1306.3" y2="1756.5" stroke="#444" stroke-width="2"/>
<line x1="1327.5" y1="1750.5" x2="1327.5" y2="1750.5" stroke="#444" stroke-width="2"/>
<line x1="1348.6" y1="1750.5" x2="1348.6" y2="1750.5" stroke="#444" stroke-width="2"/>
<line x1="1369.8" y1="1750.5" x2="1369.8" y2="1756.5" stroke="#444" stroke-width="2"/>
<line x1="1390.9" y1="1750.5" x2="1390.9" y2="1750.5" stroke="#444" stroke-width="2"/>
<line x1="1412.0" y1="1750.5" x2="1412.0" y2="1750.5" stroke="#444" stroke-width="2"/>
<text x="930.3" y="1801.5" font-size="27" text-anchor="middle" font-weight="normal" fill="#000" >0</text>
<text x="990.9" y="1801.5" font-size="27" text-anchor="middle" font-weight="normal" fill="#000" >3</text>
<text x="1055.1" y="1801.5" font-size="27" text-anchor="middle" font-weight="normal" fill="#000" >6</text>
<text x="1118.9" y="1801.5" font-size="27" text-anchor="middle" font-weight="normal" fill="#000" >9</text>
<text x="1184.7" y="1801.5" font-size="27" text-anchor="middle" font-weight="normal" fill="#000" >12</text>
<text x="1248.9" y="1801.5" font-size="27" text-anchor="middle" font-weight="normal" fill="#000" >15</text>
<text x="1313.5" y="1801.5" font-size="27" text-anchor="middle" font-weight="normal" fill="#000" >18</text>
<text x="1376.5" y="1801.5" font-size="27" text-anchor="middle" font-weight="normal" fill="#000" >21</text>
<text x="1169.7" y="1857.0" font-size="27" text-anchor="middle" font-weight="normal" fill="#000" >Local time</text>
<text x="745.0" y="1192.5" font-size="31" text-anchor="start" font-weight="bold" fill="#000" >(c)</text>
<text x="946" y="1202.5" font-size="27">PM<tspan font-size="16" dy="9.6">10 SFC </tspan><tspan dy="-9.6">- PM</tspan><tspan font-size="16" dy="9.6">10 mountain</tspan><tspan dy="-9.6"> &#8804; -50 &#956; gm</tspan><tspan font-size="16" dy="-10">-3</tspan></text>
<text transform="translate(819,1481.3) rotate(-90)" font-size="28" text-anchor="middle">Count</text>
<text x="0.5" y="23.4" font-size="31" text-anchor="start" font-weight="bold" fill="#000" >(a)</text>
</svg></body></html>
